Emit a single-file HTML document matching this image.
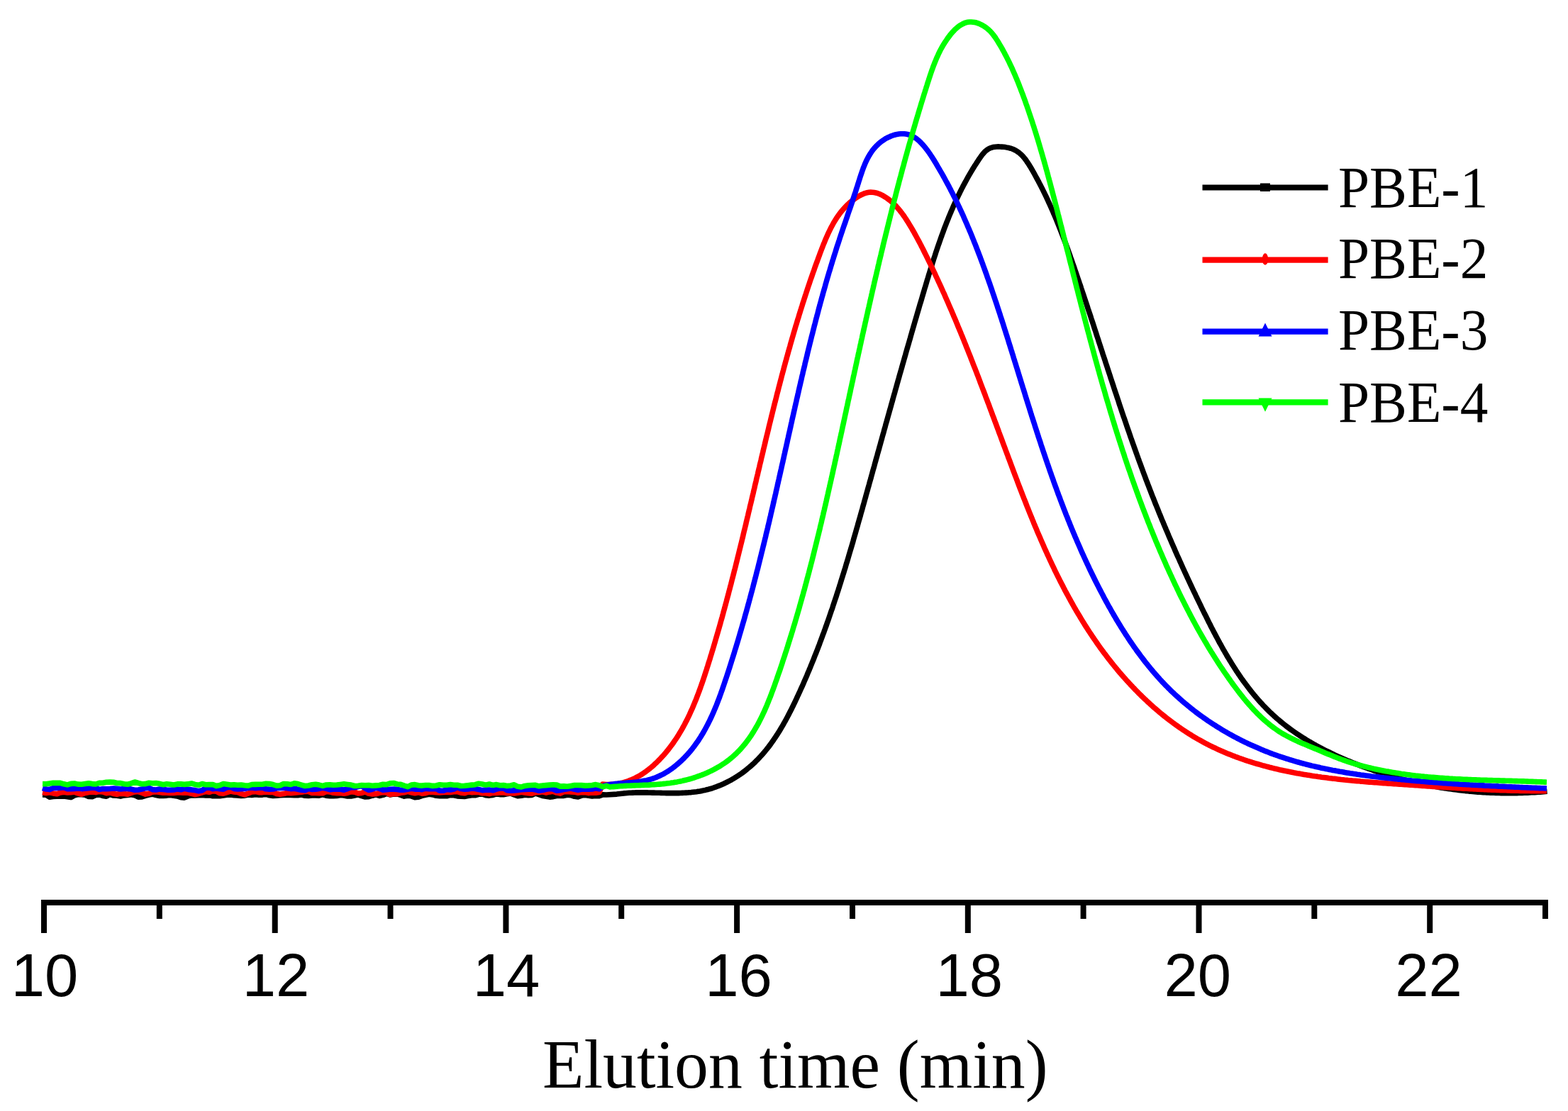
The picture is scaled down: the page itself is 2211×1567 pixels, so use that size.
<!DOCTYPE html>
<html><head><meta charset="utf-8"><style>
html,body{margin:0;padding:0;background:#fff;overflow:hidden}
svg{display:block}
.tl{font-family:"Liberation Sans",Arial,sans-serif;font-size:85px;text-anchor:middle;fill:#000}
.tt{font-family:"Liberation Serif","Times New Roman",serif;font-size:98px;fill:#000}
.lg{font-family:"Liberation Serif","Times New Roman",serif;font-size:83px;fill:#000}
</style></head><body>
<svg xmlns="http://www.w3.org/2000/svg" width="2211" height="1567" viewBox="0 0 2211 1567">
<rect width="2211" height="1567" fill="#fff"/>
<rect x="58" y="1269" width="2125" height="8" fill="#000"/>
<rect x="58.0" y="1269" width="8" height="47" fill="#000"/>
<text x="63" y="1405" class="tl">10</text>
<rect x="220.8" y="1269" width="8" height="27" fill="#000"/>
<rect x="383.7" y="1269" width="8" height="47" fill="#000"/>
<text x="389" y="1405" class="tl">12</text>
<rect x="546.5" y="1269" width="8" height="27" fill="#000"/>
<rect x="709.4" y="1269" width="8" height="47" fill="#000"/>
<text x="714" y="1405" class="tl">14</text>
<rect x="872.2" y="1269" width="8" height="27" fill="#000"/>
<rect x="1035.1" y="1269" width="8" height="47" fill="#000"/>
<text x="1041.5" y="1405" class="tl">16</text>
<rect x="1198.0" y="1269" width="8" height="27" fill="#000"/>
<rect x="1360.8" y="1269" width="8" height="47" fill="#000"/>
<text x="1366.8" y="1405" class="tl">18</text>
<rect x="1523.6" y="1269" width="8" height="27" fill="#000"/>
<rect x="1686.5" y="1269" width="8" height="47" fill="#000"/>
<text x="1688.7" y="1405" class="tl">20</text>
<rect x="1849.3" y="1269" width="8" height="27" fill="#000"/>
<rect x="2012.2" y="1269" width="8" height="47" fill="#000"/>
<text x="2014.5" y="1405" class="tl">22</text>
<rect x="2175.0" y="1269" width="8" height="27" fill="#000"/>
<text transform="translate(765,1534) scale(0.977,1)" class="tt">Elution time (min)</text>
<line x1="1695.5" x2="1872.6" y1="264.5" y2="264.5" stroke="#000" stroke-width="8.2"/>
<text transform="translate(1887,291.5) scale(0.955,1)" class="lg">PBE-1</text>
<line x1="1695.5" x2="1872.6" y1="366.6" y2="366.6" stroke="#f00" stroke-width="8.2"/>
<text transform="translate(1887,392.3) scale(0.955,1)" class="lg">PBE-2</text>
<line x1="1695.5" x2="1872.6" y1="467.7" y2="467.7" stroke="#00f" stroke-width="8.2"/>
<text transform="translate(1887,493.1) scale(0.955,1)" class="lg">PBE-3</text>
<line x1="1695.5" x2="1872.6" y1="567.4" y2="567.4" stroke="#0f0" stroke-width="8.2"/>
<text transform="translate(1887,594.7) scale(0.955,1)" class="lg">PBE-4</text>
<rect x="1777" y="258.5" width="14" height="11.5" fill="#000"/>
<ellipse cx="1784" cy="365.5" rx="4.2" ry="8.3" fill="#f00"/>
<polygon points="1784,455.5 1774.5,474.5 1793.5,474.5" fill="#00f"/>
<polygon points="1774.5,561.5 1793.5,561.5 1784,580.7" fill="#0f0"/>
<polyline points="60.0,1121.0 65.0,1121.2 70.0,1124.2 75.0,1123.4 80.0,1123.1 85.0,1123.1 90.0,1123.1 95.0,1123.7 100.0,1124.6 105.0,1121.9 110.0,1120.5 115.0,1120.8 120.0,1121.3 125.0,1123.5 130.0,1123.7 135.0,1121.6 140.0,1120.9 145.0,1122.5 150.0,1123.2 155.0,1120.5 160.0,1122.0 165.0,1122.2 170.0,1123.1 175.0,1121.9 180.0,1121.5 185.0,1120.7 190.0,1121.7 195.0,1124.2 200.0,1124.0 205.0,1122.3 210.0,1121.0 215.0,1120.2 220.0,1121.6 225.0,1122.5 230.0,1122.5 235.0,1122.1 240.0,1121.4 245.0,1122.2 250.0,1123.0 255.0,1124.7 260.0,1125.1 265.0,1122.9 270.0,1121.7 275.0,1122.0 280.0,1121.6 285.0,1121.5 290.0,1121.9 295.0,1121.6 300.0,1122.8 305.0,1122.7 310.0,1122.7 315.0,1122.1 320.0,1121.3 325.0,1121.1 330.0,1121.7 335.0,1121.9 340.0,1122.5 345.0,1122.1 350.0,1121.0 355.0,1121.5 360.0,1120.8 365.0,1121.2 370.0,1121.1 375.0,1120.1 380.0,1121.8 385.0,1122.5 390.0,1122.1 395.0,1121.7 400.0,1121.5 405.0,1121.1 410.0,1121.5 415.0,1121.7 420.0,1121.8 425.0,1121.1 430.0,1122.2 435.0,1122.5 440.0,1122.0 445.0,1121.9 450.0,1122.1 455.0,1120.8 460.0,1122.2 465.0,1122.8 470.0,1122.8 475.0,1122.5 480.0,1121.5 485.0,1121.9 490.0,1122.9 495.0,1122.9 500.0,1122.0 505.0,1120.8 510.0,1122.6 515.0,1124.0 520.0,1123.7 525.0,1122.2 530.0,1120.9 535.0,1122.5 540.0,1121.4 545.0,1119.4 550.0,1121.0 555.0,1120.1 560.0,1119.9 565.0,1121.4 570.0,1123.1 575.0,1122.2 580.0,1122.8 585.0,1124.6 590.0,1124.3 595.0,1122.4 600.0,1121.2 605.0,1120.3 610.0,1120.9 615.0,1122.3 620.0,1122.6 625.0,1122.6 630.0,1122.8 635.0,1121.4 640.0,1121.8 645.0,1122.9 650.0,1123.2 655.0,1123.4 660.0,1122.6 665.0,1121.8 670.0,1121.8 675.0,1120.3 680.0,1119.9 685.0,1121.8 690.0,1122.1 695.0,1121.5 700.0,1119.9 705.0,1120.6 710.0,1120.7 715.0,1119.8 720.0,1118.9 725.0,1120.9 730.0,1122.7 735.0,1122.2 740.0,1121.2 745.0,1121.7 750.0,1121.5 755.0,1118.9 760.0,1120.7 765.0,1122.5 770.0,1123.2 775.0,1124.1 780.0,1123.6 785.0,1122.5 790.0,1122.3 795.0,1122.4 800.0,1121.3 805.0,1121.7 810.0,1123.3 815.0,1124.0 820.0,1122.1 825.0,1121.5 830.0,1122.2 835.0,1123.0 840.0,1122.5 845.0,1122.7 850.0,1120.9 855.0,1121.0 869.7,1120.1 872.1,1119.8 874.6,1119.5 877.1,1119.2 879.6,1118.9 882.1,1118.7 884.6,1118.5 887.1,1118.3 889.6,1118.2 892.1,1118.1 894.6,1118.0 897.1,1117.9 899.6,1117.9 902.1,1117.9 904.6,1117.9 907.1,1117.9 909.6,1117.9 912.1,1117.9 914.6,1118.0 917.1,1118.0 919.6,1118.1 922.1,1118.1 924.6,1118.2 927.1,1118.3 929.6,1118.3 932.1,1118.4 934.6,1118.5 937.1,1118.5 939.6,1118.6 942.1,1118.6 944.6,1118.6 947.1,1118.6 949.6,1118.6 952.1,1118.6 954.6,1118.6 957.1,1118.6 959.6,1118.5 962.1,1118.4 964.6,1118.3 967.1,1118.1 969.6,1118.0 972.1,1117.8 974.6,1117.6 977.1,1117.3 979.6,1117.0 982.1,1116.7 984.6,1116.3 987.0,1115.9 989.5,1115.4 991.9,1114.9 994.4,1114.4 996.8,1113.8 999.2,1113.2 1001.7,1112.5 1004.0,1111.8 1006.4,1111.0 1008.8,1110.2 1011.1,1109.3 1013.5,1108.4 1015.8,1107.5 1018.1,1106.5 1020.4,1105.5 1022.6,1104.4 1024.9,1103.3 1027.1,1102.2 1029.3,1101.0 1031.5,1099.8 1033.7,1098.5 1035.8,1097.3 1038.0,1095.9 1040.1,1094.6 1042.2,1093.2 1044.2,1091.8 1046.3,1090.4 1048.3,1088.9 1050.3,1087.4 1052.3,1085.8 1054.2,1084.2 1056.1,1082.6 1058.0,1081.0 1059.9,1079.4 1061.8,1077.7 1063.6,1076.0 1065.4,1074.2 1067.1,1072.4 1068.9,1070.7 1070.6,1068.8 1072.3,1067.0 1074.0,1065.2 1075.7,1063.3 1077.3,1061.4 1078.9,1059.5 1080.5,1057.5 1082.0,1055.6 1083.6,1053.6 1085.1,1051.6 1086.6,1049.6 1088.0,1047.6 1089.5,1045.5 1090.9,1043.5 1092.3,1041.4 1093.7,1039.3 1095.1,1037.2 1096.5,1035.1 1097.8,1033.0 1099.1,1030.9 1100.4,1028.7 1101.7,1026.6 1103.0,1024.4 1104.2,1022.3 1105.4,1020.1 1106.7,1017.9 1107.9,1015.7 1109.1,1013.5 1110.3,1011.3 1111.4,1009.1 1112.6,1006.9 1113.7,1004.6 1114.9,1002.4 1116.0,1000.2 1117.1,997.9 1118.2,995.7 1119.3,993.4 1120.4,991.2 1121.5,988.9 1122.5,986.7 1123.6,984.4 1124.6,982.1 1125.7,979.9 1126.7,977.6 1127.8,975.3 1128.8,973.0 1129.8,970.7 1130.9,968.5 1131.9,966.2 1132.9,963.9 1133.9,961.6 1134.9,959.3 1135.9,957.0 1136.9,954.7 1137.9,952.4 1138.8,950.1 1139.8,947.8 1140.8,945.5 1141.7,943.2 1142.7,940.9 1143.6,938.5 1144.6,936.2 1145.5,933.9 1146.5,931.6 1147.4,929.3 1148.3,926.9 1149.2,924.6 1150.2,922.3 1151.1,919.9 1152.0,917.6 1152.9,915.3 1153.8,912.9 1154.7,910.6 1155.6,908.3 1156.4,905.9 1157.3,903.6 1158.2,901.2 1159.1,898.9 1159.9,896.5 1160.8,894.2 1161.7,891.8 1162.5,889.5 1163.4,887.1 1164.2,884.8 1165.1,882.4 1165.9,880.1 1166.7,877.7 1167.6,875.3 1168.4,873.0 1169.2,870.6 1170.0,868.3 1170.8,865.9 1171.6,863.5 1172.4,861.1 1173.3,858.8 1174.1,856.4 1174.8,854.0 1175.6,851.7 1176.4,849.3 1177.2,846.9 1178.0,844.5 1178.8,842.2 1179.6,839.8 1180.3,837.4 1181.1,835.0 1181.9,832.6 1182.6,830.2 1183.4,827.9 1184.1,825.5 1184.9,823.1 1185.6,820.7 1186.4,818.3 1187.1,815.9 1187.9,813.5 1188.6,811.1 1189.4,808.8 1190.1,806.4 1190.8,804.0 1191.6,801.6 1192.3,799.2 1193.0,796.8 1193.7,794.4 1194.5,792.0 1195.2,789.6 1195.9,787.2 1196.6,784.8 1197.3,782.4 1198.0,780.0 1198.7,777.6 1199.4,775.2 1200.2,772.8 1200.9,770.4 1201.6,768.0 1202.3,765.6 1203.0,763.2 1203.6,760.8 1204.3,758.4 1205.0,756.0 1205.7,753.6 1206.4,751.2 1207.1,748.8 1207.8,746.3 1208.5,743.9 1209.2,741.5 1209.8,739.1 1210.5,736.7 1211.2,734.3 1211.9,731.9 1212.6,729.5 1213.3,727.1 1213.9,724.7 1214.6,722.3 1215.3,719.9 1216.0,717.4 1216.6,715.0 1217.3,712.6 1218.0,710.2 1218.7,707.8 1219.3,705.4 1220.0,703.0 1220.7,700.6 1221.3,698.2 1222.0,695.8 1222.7,693.3 1223.4,690.9 1224.0,688.5 1224.7,686.1 1225.4,683.7 1226.0,681.3 1226.7,678.9 1227.4,676.5 1228.1,674.1 1228.7,671.6 1229.4,669.2 1230.1,666.8 1230.7,664.4 1231.4,662.0 1232.1,659.6 1232.8,657.2 1233.4,654.8 1234.1,652.3 1234.8,649.9 1235.4,647.5 1236.1,645.1 1236.8,642.7 1237.4,640.3 1238.1,637.9 1238.8,635.5 1239.5,633.1 1240.1,630.6 1240.8,628.2 1241.5,625.8 1242.1,623.4 1242.8,621.0 1243.5,618.6 1244.1,616.2 1244.8,613.8 1245.5,611.4 1246.2,608.9 1246.8,606.5 1247.5,604.1 1248.2,601.7 1248.8,599.3 1249.5,596.9 1250.2,594.5 1250.9,592.1 1251.5,589.7 1252.2,587.2 1252.9,584.8 1253.6,582.4 1254.2,580.0 1254.9,577.6 1255.6,575.2 1256.3,572.8 1256.9,570.4 1257.6,568.0 1258.3,565.6 1259.0,563.1 1259.6,560.7 1260.3,558.3 1261.0,555.9 1261.7,553.5 1262.3,551.1 1263.0,548.7 1263.7,546.3 1264.4,543.9 1265.0,541.5 1265.7,539.1 1266.4,536.6 1267.1,534.2 1267.8,531.8 1268.4,529.4 1269.1,527.0 1269.8,524.6 1270.5,522.2 1271.2,519.8 1271.9,517.4 1272.5,515.0 1273.2,512.6 1273.9,510.2 1274.6,507.8 1275.3,505.3 1276.0,502.9 1276.7,500.5 1277.3,498.1 1278.0,495.7 1278.7,493.3 1279.4,490.9 1280.1,488.5 1280.8,486.1 1281.5,483.7 1282.2,481.3 1282.9,478.9 1283.6,476.5 1284.2,474.1 1284.9,471.7 1285.6,469.3 1286.3,466.9 1287.0,464.4 1287.7,462.0 1288.4,459.6 1289.1,457.2 1289.8,454.8 1290.5,452.4 1291.2,450.0 1291.9,447.6 1292.6,445.2 1293.3,442.8 1294.0,440.4 1294.7,438.0 1295.4,435.6 1296.1,433.2 1296.8,430.8 1297.5,428.4 1298.3,426.0 1299.0,423.6 1299.7,421.2 1300.4,418.8 1301.1,416.4 1301.8,414.0 1302.5,411.6 1303.2,409.2 1303.9,406.8 1304.7,404.4 1305.4,402.0 1306.1,399.6 1306.8,397.2 1307.5,394.8 1308.3,392.4 1309.0,390.0 1309.7,387.6 1310.5,385.3 1311.2,382.9 1311.9,380.5 1312.7,378.1 1313.4,375.7 1314.2,373.3 1314.9,370.9 1315.7,368.5 1316.4,366.1 1317.2,363.8 1318.0,361.4 1318.8,359.0 1319.5,356.6 1320.3,354.3 1321.1,351.9 1321.9,349.5 1322.7,347.1 1323.5,344.8 1324.4,342.4 1325.2,340.0 1326.0,337.7 1326.8,335.3 1327.7,333.0 1328.5,330.6 1329.4,328.3 1330.3,325.9 1331.1,323.6 1332.0,321.2 1332.9,318.9 1333.8,316.6 1334.7,314.2 1335.6,311.9 1336.6,309.6 1337.5,307.2 1338.4,304.9 1339.4,302.6 1340.4,300.3 1341.3,298.0 1342.3,295.7 1343.3,293.4 1344.3,291.1 1345.3,288.8 1346.4,286.5 1347.4,284.3 1348.4,282.0 1349.5,279.7 1350.6,277.5 1351.7,275.2 1352.8,273.0 1353.9,270.7 1355.0,268.5 1356.1,266.2 1357.3,264.0 1358.4,261.8 1359.6,259.6 1360.8,257.4 1362.0,255.2 1363.2,253.0 1364.4,250.8 1365.6,248.6 1366.9,246.4 1368.1,244.3 1369.4,242.1 1370.7,240.0 1372.0,237.8 1373.3,235.7 1374.6,233.6 1376.0,231.5 1377.3,229.4 1378.7,227.3 1380.1,225.2 1381.5,223.1 1382.9,221.1 1384.4,219.0 1385.9,217.1 1387.6,215.2 1389.3,213.4 1391.2,211.8 1393.3,210.3 1395.5,209.2 1397.8,208.3 1400.2,207.6 1402.7,207.2 1405.2,207.0 1407.7,206.9 1410.2,207.0 1412.7,207.1 1415.2,207.3 1417.7,207.6 1420.1,208.1 1422.6,208.6 1425.0,209.2 1427.4,210.0 1429.7,211.0 1431.9,212.1 1434.1,213.4 1436.1,214.8 1438.1,216.4 1439.9,218.1 1441.7,219.8 1443.4,221.7 1445.0,223.6 1446.5,225.6 1447.9,227.7 1449.3,229.7 1450.7,231.8 1452.0,234.0 1453.3,236.1 1454.6,238.3 1455.8,240.4 1457.1,242.6 1458.3,244.8 1459.5,247.0 1460.7,249.2 1461.9,251.4 1463.1,253.6 1464.3,255.8 1465.4,258.0 1466.6,260.2 1467.7,262.4 1468.9,264.7 1470.0,266.9 1471.1,269.1 1472.2,271.4 1473.3,273.6 1474.4,275.9 1475.5,278.2 1476.5,280.4 1477.6,282.7 1478.6,285.0 1479.7,287.2 1480.7,289.5 1481.7,291.8 1482.7,294.1 1483.8,296.4 1484.8,298.7 1485.7,301.0 1486.7,303.3 1487.7,305.6 1488.7,307.9 1489.6,310.2 1490.6,312.5 1491.5,314.8 1492.5,317.2 1493.4,319.5 1494.3,321.8 1495.2,324.1 1496.1,326.5 1497.0,328.8 1497.9,331.1 1498.8,333.5 1499.7,335.8 1500.6,338.2 1501.5,340.5 1502.4,342.8 1503.2,345.2 1504.1,347.5 1505.0,349.9 1505.8,352.2 1506.7,354.6 1507.5,357.0 1508.4,359.3 1509.2,361.7 1510.0,364.0 1510.9,366.4 1511.7,368.7 1512.5,371.1 1513.3,373.5 1514.2,375.8 1515.0,378.2 1515.8,380.6 1516.6,382.9 1517.4,385.3 1518.2,387.7 1519.0,390.0 1519.8,392.4 1520.6,394.8 1521.4,397.1 1522.2,399.5 1523.1,401.9 1523.9,404.3 1524.6,406.6 1525.4,409.0 1526.2,411.4 1527.0,413.8 1527.8,416.1 1528.6,418.5 1529.4,420.9 1530.2,423.2 1531.0,425.6 1531.8,428.0 1532.6,430.4 1533.4,432.8 1534.1,435.1 1534.9,437.5 1535.7,439.9 1536.5,442.3 1537.3,444.6 1538.1,447.0 1538.8,449.4 1539.6,451.8 1540.4,454.1 1541.2,456.5 1542.0,458.9 1542.7,461.3 1543.5,463.7 1544.3,466.0 1545.1,468.4 1545.8,470.8 1546.6,473.2 1547.4,475.6 1548.2,477.9 1548.9,480.3 1549.7,482.7 1550.5,485.1 1551.3,487.5 1552.0,489.8 1552.8,492.2 1553.6,494.6 1554.4,497.0 1555.1,499.4 1555.9,501.7 1556.7,504.1 1557.5,506.5 1558.3,508.9 1559.0,511.2 1559.8,513.6 1560.6,516.0 1561.4,518.4 1562.1,520.8 1562.9,523.1 1563.7,525.5 1564.5,527.9 1565.3,530.3 1566.0,532.7 1566.8,535.0 1567.6,537.4 1568.4,539.8 1569.2,542.2 1570.0,544.5 1570.7,546.9 1571.5,549.3 1572.3,551.7 1573.1,554.0 1573.9,556.4 1574.7,558.8 1575.5,561.2 1576.3,563.5 1577.1,565.9 1577.8,568.3 1578.6,570.7 1579.4,573.0 1580.2,575.4 1581.0,577.8 1581.8,580.2 1582.6,582.5 1583.4,584.9 1584.2,587.3 1585.1,589.6 1585.9,592.0 1586.7,594.4 1587.5,596.7 1588.3,599.1 1589.1,601.5 1589.9,603.8 1590.7,606.2 1591.6,608.6 1592.4,610.9 1593.2,613.3 1594.0,615.7 1594.8,618.0 1595.7,620.4 1596.5,622.7 1597.3,625.1 1598.2,627.5 1599.0,629.8 1599.8,632.2 1600.7,634.5 1601.5,636.9 1602.4,639.3 1603.2,641.6 1604.1,644.0 1604.9,646.3 1605.8,648.7 1606.6,651.0 1607.5,653.4 1608.4,655.7 1609.2,658.1 1610.1,660.4 1611.0,662.8 1611.8,665.1 1612.7,667.5 1613.6,669.8 1614.5,672.1 1615.3,674.5 1616.2,676.8 1617.1,679.2 1618.0,681.5 1618.9,683.8 1619.8,686.2 1620.7,688.5 1621.6,690.8 1622.5,693.2 1623.4,695.5 1624.3,697.8 1625.2,700.2 1626.2,702.5 1627.1,704.8 1628.0,707.2 1628.9,709.5 1629.8,711.8 1630.8,714.1 1631.7,716.4 1632.7,718.8 1633.6,721.1 1634.5,723.4 1635.5,725.7 1636.4,728.0 1637.4,730.4 1638.3,732.7 1639.3,735.0 1640.3,737.3 1641.2,739.6 1642.2,741.9 1643.2,744.2 1644.1,746.5 1645.1,748.8 1646.1,751.1 1647.1,753.4 1648.0,755.7 1649.0,758.0 1650.0,760.3 1651.0,762.6 1652.0,764.9 1653.0,767.2 1654.0,769.5 1655.0,771.8 1656.0,774.1 1657.0,776.4 1658.0,778.7 1659.0,781.0 1660.0,783.3 1661.1,785.6 1662.1,787.8 1663.1,790.1 1664.1,792.4 1665.2,794.7 1666.2,797.0 1667.2,799.3 1668.2,801.5 1669.3,803.8 1670.3,806.1 1671.4,808.4 1672.4,810.6 1673.5,812.9 1674.5,815.2 1675.6,817.4 1676.6,819.7 1677.7,822.0 1678.7,824.3 1679.8,826.5 1680.9,828.8 1681.9,831.0 1683.0,833.3 1684.1,835.6 1685.2,837.8 1686.2,840.1 1687.3,842.3 1688.4,844.6 1689.5,846.9 1690.6,849.1 1691.7,851.4 1692.8,853.6 1693.8,855.9 1694.9,858.1 1696.0,860.4 1697.1,862.6 1698.2,864.9 1699.4,867.1 1700.5,869.3 1701.6,871.6 1702.7,873.8 1703.8,876.1 1704.9,878.3 1706.1,880.5 1707.2,882.8 1708.3,885.0 1709.5,887.2 1710.6,889.4 1711.8,891.7 1713.0,893.9 1714.1,896.1 1715.3,898.3 1716.5,900.5 1717.7,902.7 1718.8,904.9 1720.0,907.1 1721.3,909.3 1722.5,911.5 1723.7,913.7 1724.9,915.9 1726.2,918.0 1727.4,920.2 1728.7,922.4 1729.9,924.5 1731.2,926.7 1732.5,928.8 1733.8,931.0 1735.1,933.1 1736.4,935.2 1737.7,937.4 1739.1,939.5 1740.4,941.6 1741.8,943.7 1743.1,945.8 1744.5,947.9 1745.9,950.0 1747.3,952.0 1748.7,954.1 1750.1,956.2 1751.6,958.2 1753.0,960.2 1754.5,962.3 1756.0,964.3 1757.5,966.3 1759.0,968.3 1760.5,970.3 1762.0,972.3 1763.6,974.2 1765.1,976.2 1766.7,978.1 1768.3,980.1 1769.9,982.0 1771.5,983.9 1773.1,985.8 1774.8,987.7 1776.5,989.6 1778.1,991.4 1779.8,993.2 1781.5,995.1 1783.3,996.9 1785.0,998.7 1786.8,1000.5 1788.5,1002.2 1790.3,1004.0 1792.1,1005.7 1794.0,1007.4 1795.8,1009.1 1797.7,1010.8 1799.5,1012.5 1801.4,1014.1 1803.3,1015.7 1805.2,1017.4 1807.2,1018.9 1809.1,1020.5 1811.1,1022.1 1813.0,1023.6 1815.0,1025.1 1817.0,1026.6 1819.0,1028.1 1821.1,1029.6 1823.1,1031.0 1825.2,1032.5 1827.2,1033.9 1829.3,1035.3 1831.4,1036.7 1833.5,1038.1 1835.6,1039.4 1837.7,1040.8 1839.8,1042.1 1841.9,1043.4 1844.1,1044.7 1846.2,1046.0 1848.4,1047.2 1850.6,1048.5 1852.7,1049.7 1854.9,1050.9 1857.1,1052.2 1859.3,1053.3 1861.5,1054.5 1863.7,1055.7 1865.9,1056.8 1868.2,1058.0 1870.4,1059.1 1872.6,1060.2 1874.9,1061.3 1877.1,1062.4 1879.4,1063.5 1881.7,1064.6 1883.9,1065.6 1886.2,1066.7 1888.5,1067.7 1890.8,1068.7 1893.1,1069.7 1895.4,1070.7 1897.7,1071.7 1900.0,1072.7 1902.3,1073.6 1904.6,1074.6 1906.9,1075.5 1909.3,1076.5 1911.6,1077.4 1913.9,1078.3 1916.2,1079.2 1918.6,1080.1 1920.9,1081.0 1923.3,1081.8 1925.6,1082.7 1928.0,1083.5 1930.3,1084.4 1932.7,1085.2 1935.1,1086.0 1937.4,1086.9 1939.8,1087.7 1942.2,1088.5 1944.5,1089.2 1946.9,1090.0 1949.3,1090.8 1951.7,1091.5 1954.1,1092.3 1956.5,1093.0 1958.9,1093.8 1961.3,1094.5 1963.7,1095.2 1966.1,1095.9 1968.5,1096.6 1970.9,1097.3 1973.3,1097.9 1975.7,1098.6 1978.1,1099.2 1980.5,1099.9 1983.0,1100.5 1985.4,1101.1 1987.8,1101.7 1990.2,1102.3 1992.7,1102.9 1995.1,1103.5 1997.5,1104.1 2000.0,1104.6 2002.4,1105.2 2004.9,1105.7 2007.3,1106.2 2009.8,1106.7 2012.2,1107.2 2014.7,1107.7 2017.1,1108.2 2019.6,1108.7 2022.1,1109.1 2024.5,1109.6 2027.0,1110.0 2029.4,1110.5 2031.9,1110.9 2034.4,1111.3 2036.9,1111.7 2039.3,1112.1 2041.8,1112.4 2044.3,1112.8 2046.8,1113.1 2049.2,1113.5 2051.7,1113.8 2054.2,1114.1 2056.7,1114.4 2059.2,1114.7 2061.7,1115.0 2064.1,1115.3 2066.6,1115.6 2069.1,1115.8 2071.6,1116.1 2074.1,1116.3 2076.6,1116.5 2079.1,1116.7 2081.6,1116.9 2084.1,1117.1 2086.6,1117.3 2089.1,1117.4 2091.6,1117.6 2094.1,1117.8 2096.6,1117.9 2099.1,1118.0 2101.6,1118.1 2104.1,1118.2 2106.6,1118.3 2109.1,1118.4 2111.6,1118.5 2114.1,1118.5 2116.6,1118.6 2119.1,1118.6 2121.6,1118.6 2124.1,1118.7 2126.6,1118.7 2129.1,1118.7 2131.6,1118.7 2134.1,1118.6 2136.6,1118.6 2139.1,1118.6 2141.6,1118.5 2144.1,1118.4 2146.6,1118.4 2149.1,1118.3 2151.6,1118.2 2154.1,1118.1 2156.6,1118.0 2159.1,1117.8 2161.6,1117.7 2164.1,1117.6 2166.6,1117.4 2169.1,1117.2 2171.6,1117.1 2174.1,1116.9 2176.6,1116.7 2179.1,1116.5 2181.6,1116.3" fill="none" stroke="#000" stroke-width="7.6" stroke-linejoin="round" stroke-linecap="butt"/>
<polyline points="60.0,1117.4 65.0,1118.4 70.0,1117.7 75.0,1118.9 80.0,1119.8 85.0,1118.0 90.0,1117.3 95.0,1118.0 100.0,1117.7 105.0,1117.1 110.0,1118.9 115.0,1120.3 120.0,1118.4 125.0,1117.4 130.0,1117.0 135.0,1117.6 140.0,1116.4 145.0,1116.9 150.0,1118.7 155.0,1117.9 160.0,1119.5 165.0,1120.2 170.0,1119.1 175.0,1119.5 180.0,1120.3 185.0,1118.4 190.0,1116.9 195.0,1116.4 200.0,1118.2 205.0,1120.1 210.0,1119.3 215.0,1117.1 220.0,1116.7 225.0,1117.4 230.0,1118.2 235.0,1118.1 240.0,1118.4 245.0,1118.4 250.0,1117.9 255.0,1118.0 260.0,1118.3 265.0,1118.3 270.0,1119.3 275.0,1120.6 280.0,1119.5 285.0,1117.8 290.0,1116.5 295.0,1117.3 300.0,1115.7 305.0,1116.2 310.0,1118.8 315.0,1119.2 320.0,1117.6 325.0,1116.1 330.0,1116.9 335.0,1117.5 340.0,1119.4 345.0,1120.9 350.0,1119.0 355.0,1117.0 360.0,1116.6 365.0,1117.6 370.0,1117.6 375.0,1116.9 380.0,1117.5 385.0,1117.4 390.0,1119.4 395.0,1120.2 400.0,1119.6 405.0,1118.3 410.0,1118.6 415.0,1118.1 420.0,1117.6 425.0,1117.3 430.0,1116.2 435.0,1116.5 440.0,1118.5 445.0,1118.4 450.0,1118.8 455.0,1118.8 460.0,1116.5 465.0,1116.9 470.0,1118.3 475.0,1118.6 480.0,1118.4 485.0,1119.3 490.0,1118.4 495.0,1116.7 500.0,1117.1 505.0,1119.0 510.0,1118.4 515.0,1116.9 520.0,1119.3 525.0,1119.9 530.0,1119.8 535.0,1118.3 540.0,1117.4 545.0,1117.9 550.0,1120.6 555.0,1119.6 560.0,1119.7 565.0,1118.3 570.0,1117.7 575.0,1116.4 580.0,1117.7 585.0,1118.8 590.0,1117.7 595.0,1119.2 600.0,1118.7 605.0,1117.2 610.0,1117.3 615.0,1117.7 620.0,1117.9 625.0,1117.5 630.0,1117.2 635.0,1117.4 640.0,1116.7 645.0,1116.6 650.0,1118.2 655.0,1118.8 660.0,1117.0 665.0,1117.6 670.0,1117.3 675.0,1117.4 680.0,1118.8 685.0,1118.7 690.0,1119.6 695.0,1118.2 700.0,1118.5 705.0,1118.0 710.0,1117.7 715.0,1118.7 720.0,1118.7 725.0,1119.0 730.0,1118.2 735.0,1117.2 740.0,1118.0 745.0,1118.8 750.0,1119.2 755.0,1117.8 760.0,1117.5 765.0,1116.8 770.0,1118.1 775.0,1116.9 780.0,1116.1 785.0,1118.1 790.0,1119.1 795.0,1116.8 800.0,1116.5 805.0,1116.9 810.0,1117.1 815.0,1118.2 820.0,1117.5 825.0,1117.6 830.0,1118.6 835.0,1118.0 840.0,1118.3 845.0,1117.6 849.6,1106.1 852.1,1106.3 854.6,1106.5 857.1,1106.5 859.6,1106.5 862.1,1106.4 864.6,1106.3 867.1,1106.0 869.5,1105.7 872.0,1105.3 874.5,1104.8 876.9,1104.3 879.3,1103.6 881.7,1102.9 884.1,1102.2 886.5,1101.3 888.8,1100.4 891.1,1099.5 893.4,1098.4 895.7,1097.4 897.9,1096.2 900.1,1095.0 902.3,1093.8 904.4,1092.5 906.5,1091.1 908.6,1089.7 910.6,1088.3 912.6,1086.8 914.6,1085.3 916.6,1083.7 918.5,1082.1 920.4,1080.5 922.3,1078.8 924.1,1077.1 925.9,1075.4 927.7,1073.6 929.5,1071.8 931.2,1070.0 932.9,1068.2 934.6,1066.3 936.3,1064.5 937.9,1062.6 939.5,1060.7 941.1,1058.7 942.7,1056.8 944.2,1054.8 945.7,1052.8 947.2,1050.8 948.7,1048.7 950.1,1046.7 951.5,1044.6 952.9,1042.6 954.3,1040.5 955.6,1038.4 957.0,1036.2 958.3,1034.1 959.6,1031.9 960.8,1029.8 962.1,1027.6 963.3,1025.4 964.5,1023.2 965.7,1021.0 966.8,1018.8 968.0,1016.6 969.1,1014.3 970.2,1012.1 971.3,1009.8 972.4,1007.6 973.4,1005.3 974.4,1003.0 975.5,1000.7 976.5,998.4 977.5,996.1 978.4,993.8 979.4,991.5 980.3,989.2 981.3,986.9 982.2,984.6 983.1,982.2 984.0,979.9 984.9,977.5 985.8,975.2 986.6,972.8 987.5,970.5 988.3,968.1 989.1,965.8 990.0,963.4 990.8,961.0 991.6,958.7 992.4,956.3 993.2,953.9 994.0,951.5 994.7,949.2 995.5,946.8 996.3,944.4 997.0,942.0 997.8,939.6 998.5,937.2 999.3,934.8 1000.0,932.5 1000.8,930.1 1001.5,927.7 1002.2,925.3 1003.0,922.9 1003.7,920.5 1004.4,918.1 1005.2,915.7 1005.9,913.3 1006.6,910.9 1007.3,908.5 1008.0,906.1 1008.7,903.7 1009.4,901.3 1010.1,898.9 1010.8,896.5 1011.5,894.1 1012.2,891.7 1012.9,889.3 1013.6,886.9 1014.3,884.5 1015.0,882.0 1015.7,879.6 1016.3,877.2 1017.0,874.8 1017.7,872.4 1018.4,870.0 1019.0,867.6 1019.7,865.2 1020.3,862.7 1021.0,860.3 1021.7,857.9 1022.3,855.5 1023.0,853.1 1023.6,850.7 1024.3,848.2 1024.9,845.8 1025.6,843.4 1026.2,841.0 1026.9,838.6 1027.5,836.2 1028.1,833.7 1028.8,831.3 1029.4,828.9 1030.0,826.5 1030.7,824.0 1031.3,821.6 1031.9,819.2 1032.5,816.8 1033.2,814.3 1033.8,811.9 1034.4,809.5 1035.0,807.1 1035.6,804.6 1036.3,802.2 1036.9,799.8 1037.5,797.4 1038.1,794.9 1038.7,792.5 1039.3,790.1 1039.9,787.6 1040.5,785.2 1041.1,782.8 1041.7,780.3 1042.3,777.9 1042.9,775.5 1043.5,773.1 1044.1,770.6 1044.7,768.2 1045.3,765.8 1045.9,763.3 1046.5,760.9 1047.1,758.5 1047.7,756.0 1048.2,753.6 1048.8,751.2 1049.4,748.7 1050.0,746.3 1050.6,743.9 1051.2,741.4 1051.8,739.0 1052.3,736.5 1052.9,734.1 1053.5,731.7 1054.1,729.2 1054.7,726.8 1055.2,724.4 1055.8,721.9 1056.4,719.5 1057.0,717.1 1057.5,714.6 1058.1,712.2 1058.7,709.8 1059.3,707.3 1059.9,704.9 1060.4,702.4 1061.0,700.0 1061.6,697.6 1062.2,695.1 1062.7,692.7 1063.3,690.3 1063.9,687.8 1064.4,685.4 1065.0,682.9 1065.6,680.5 1066.2,678.1 1066.7,675.6 1067.3,673.2 1067.9,670.8 1068.5,668.3 1069.0,665.9 1069.6,663.5 1070.2,661.0 1070.8,658.6 1071.3,656.1 1071.9,653.7 1072.5,651.3 1073.1,648.8 1073.6,646.4 1074.2,644.0 1074.8,641.5 1075.4,639.1 1076.0,636.7 1076.5,634.2 1077.1,631.8 1077.7,629.3 1078.3,626.9 1078.9,624.5 1079.4,622.0 1080.0,619.6 1080.6,617.2 1081.2,614.7 1081.8,612.3 1082.4,609.9 1083.0,607.4 1083.6,605.0 1084.1,602.6 1084.7,600.1 1085.3,597.7 1085.9,595.3 1086.5,592.8 1087.1,590.4 1087.7,588.0 1088.3,585.5 1088.9,583.1 1089.5,580.7 1090.1,578.3 1090.7,575.8 1091.3,573.4 1091.9,571.0 1092.5,568.5 1093.2,566.1 1093.8,563.7 1094.4,561.3 1095.0,558.8 1095.6,556.4 1096.2,554.0 1096.9,551.5 1097.5,549.1 1098.1,546.7 1098.7,544.3 1099.4,541.9 1100.0,539.4 1100.6,537.0 1101.3,534.6 1101.9,532.2 1102.5,529.7 1103.2,527.3 1103.8,524.9 1104.5,522.5 1105.1,520.1 1105.8,517.6 1106.4,515.2 1107.1,512.8 1107.7,510.4 1108.4,508.0 1109.1,505.6 1109.7,503.2 1110.4,500.7 1111.1,498.3 1111.7,495.9 1112.4,493.5 1113.1,491.1 1113.8,488.7 1114.4,486.3 1115.1,483.9 1115.8,481.5 1116.5,479.1 1117.2,476.6 1117.9,474.2 1118.6,471.8 1119.3,469.4 1120.0,467.0 1120.7,464.6 1121.4,462.2 1122.1,459.8 1122.9,457.4 1123.6,455.0 1124.3,452.6 1125.0,450.2 1125.8,447.9 1126.5,445.5 1127.2,443.1 1128.0,440.7 1128.7,438.3 1129.5,435.9 1130.2,433.5 1131.0,431.1 1131.7,428.7 1132.5,426.3 1133.3,424.0 1134.0,421.6 1134.8,419.2 1135.6,416.8 1136.4,414.4 1137.1,412.1 1137.9,409.7 1138.7,407.3 1139.5,404.9 1140.3,402.6 1141.1,400.2 1141.9,397.8 1142.7,395.4 1143.5,393.1 1144.4,390.7 1145.2,388.3 1146.0,386.0 1146.8,383.6 1147.7,381.3 1148.5,378.9 1149.3,376.5 1150.2,374.2 1151.0,371.8 1151.9,369.5 1152.8,367.1 1153.6,364.8 1154.5,362.4 1155.4,360.1 1156.2,357.7 1157.1,355.4 1158.0,353.0 1158.9,350.7 1159.8,348.4 1160.7,346.0 1161.6,343.7 1162.6,341.4 1163.5,339.1 1164.5,336.8 1165.5,334.5 1166.5,332.2 1167.5,329.9 1168.6,327.6 1169.7,325.4 1170.8,323.1 1171.9,320.9 1173.1,318.7 1174.3,316.5 1175.5,314.3 1176.8,312.1 1178.1,310.0 1179.4,307.9 1180.8,305.8 1182.3,303.8 1183.7,301.7 1185.2,299.7 1186.8,297.8 1188.4,295.9 1190.1,294.0 1191.8,292.1 1193.5,290.3 1195.3,288.6 1197.1,286.9 1199.0,285.2 1200.9,283.6 1202.9,282.1 1204.9,280.6 1207.0,279.2 1209.1,277.8 1211.2,276.5 1213.4,275.3 1215.7,274.2 1218.0,273.2 1220.3,272.4 1222.7,271.8 1225.2,271.3 1227.7,271.1 1230.2,271.2 1232.7,271.5 1235.1,272.0 1237.5,272.7 1239.9,273.5 1242.2,274.5 1244.4,275.7 1246.6,276.9 1248.7,278.2 1250.8,279.6 1252.8,281.1 1254.8,282.6 1256.7,284.2 1258.6,285.9 1260.4,287.6 1262.2,289.4 1263.9,291.2 1265.6,293.1 1267.2,295.0 1268.8,296.9 1270.3,298.9 1271.9,300.9 1273.3,302.9 1274.8,304.9 1276.2,307.0 1277.6,309.1 1278.9,311.2 1280.3,313.3 1281.6,315.4 1282.9,317.6 1284.2,319.7 1285.5,321.9 1286.7,324.0 1288.0,326.2 1289.2,328.4 1290.4,330.6 1291.6,332.8 1292.8,335.0 1294.0,337.2 1295.2,339.4 1296.4,341.6 1297.5,343.8 1298.7,346.0 1299.8,348.3 1301.0,350.5 1302.1,352.7 1303.2,355.0 1304.3,357.2 1305.4,359.4 1306.5,361.7 1307.6,363.9 1308.7,366.2 1309.8,368.4 1310.9,370.7 1312.0,372.9 1313.1,375.2 1314.2,377.5 1315.3,379.7 1316.3,382.0 1317.4,384.2 1318.5,386.5 1319.5,388.8 1320.6,391.1 1321.6,393.3 1322.7,395.6 1323.7,397.9 1324.8,400.1 1325.8,402.4 1326.9,404.7 1327.9,407.0 1328.9,409.3 1329.9,411.6 1331.0,413.8 1332.0,416.1 1333.0,418.4 1334.0,420.7 1335.0,423.0 1336.0,425.3 1337.0,427.6 1338.0,429.9 1339.0,432.2 1340.0,434.5 1341.0,436.8 1342.0,439.1 1343.0,441.4 1344.0,443.7 1344.9,446.0 1345.9,448.3 1346.9,450.6 1347.9,452.9 1348.8,455.2 1349.8,457.5 1350.7,459.8 1351.7,462.2 1352.7,464.5 1353.6,466.8 1354.6,469.1 1355.5,471.4 1356.5,473.7 1357.4,476.0 1358.4,478.4 1359.3,480.7 1360.2,483.0 1361.2,485.3 1362.1,487.7 1363.0,490.0 1364.0,492.3 1364.9,494.6 1365.8,497.0 1366.7,499.3 1367.7,501.6 1368.6,503.9 1369.5,506.3 1370.4,508.6 1371.3,510.9 1372.2,513.3 1373.1,515.6 1374.0,517.9 1375.0,520.3 1375.9,522.6 1376.8,524.9 1377.7,527.3 1378.6,529.6 1379.5,531.9 1380.4,534.3 1381.3,536.6 1382.1,539.0 1383.0,541.3 1383.9,543.6 1384.8,546.0 1385.7,548.3 1386.6,550.7 1387.5,553.0 1388.4,555.3 1389.3,557.7 1390.1,560.0 1391.0,562.4 1391.9,564.7 1392.8,567.1 1393.7,569.4 1394.6,571.7 1395.4,574.1 1396.3,576.4 1397.2,578.8 1398.1,581.1 1398.9,583.5 1399.8,585.8 1400.7,588.2 1401.6,590.5 1402.4,592.9 1403.3,595.2 1404.2,597.5 1405.1,599.9 1405.9,602.2 1406.8,604.6 1407.7,606.9 1408.5,609.3 1409.4,611.6 1410.3,614.0 1411.2,616.3 1412.0,618.7 1412.9,621.0 1413.8,623.4 1414.6,625.7 1415.5,628.1 1416.4,630.4 1417.3,632.8 1418.1,635.1 1419.0,637.4 1419.9,639.8 1420.8,642.1 1421.6,644.5 1422.5,646.8 1423.4,649.2 1424.3,651.5 1425.1,653.9 1426.0,656.2 1426.9,658.6 1427.8,660.9 1428.6,663.2 1429.5,665.6 1430.4,667.9 1431.3,670.3 1432.2,672.6 1433.1,675.0 1434.0,677.3 1434.8,679.6 1435.7,682.0 1436.6,684.3 1437.5,686.7 1438.4,689.0 1439.3,691.3 1440.2,693.7 1441.1,696.0 1442.0,698.3 1442.9,700.7 1443.8,703.0 1444.8,705.3 1445.7,707.7 1446.6,710.0 1447.5,712.3 1448.4,714.7 1449.4,717.0 1450.3,719.3 1451.2,721.6 1452.1,724.0 1453.1,726.3 1454.0,728.6 1455.0,730.9 1455.9,733.2 1456.9,735.5 1457.8,737.9 1458.8,740.2 1459.7,742.5 1460.7,744.8 1461.7,747.1 1462.6,749.4 1463.6,751.7 1464.6,754.0 1465.6,756.3 1466.6,758.6 1467.6,760.9 1468.6,763.2 1469.6,765.5 1470.6,767.8 1471.6,770.1 1472.6,772.4 1473.6,774.7 1474.7,777.0 1475.7,779.2 1476.7,781.5 1477.8,783.8 1478.8,786.1 1479.8,788.3 1480.9,790.6 1482.0,792.9 1483.0,795.1 1484.1,797.4 1485.2,799.7 1486.3,801.9 1487.3,804.2 1488.4,806.4 1489.5,808.7 1490.6,810.9 1491.8,813.2 1492.9,815.4 1494.0,817.7 1495.1,819.9 1496.3,822.1 1497.4,824.3 1498.6,826.6 1499.7,828.8 1500.9,831.0 1502.0,833.2 1503.2,835.4 1504.4,837.6 1505.6,839.8 1506.8,842.1 1508.0,844.2 1509.2,846.4 1510.4,848.6 1511.6,850.8 1512.9,853.0 1514.1,855.2 1515.3,857.3 1516.6,859.5 1517.8,861.7 1519.1,863.8 1520.4,866.0 1521.7,868.1 1523.0,870.3 1524.3,872.4 1525.6,874.6 1526.9,876.7 1528.2,878.8 1529.5,880.9 1530.9,883.1 1532.2,885.2 1533.6,887.3 1534.9,889.4 1536.3,891.5 1537.7,893.6 1539.1,895.7 1540.4,897.7 1541.9,899.8 1543.3,901.9 1544.7,903.9 1546.1,906.0 1547.5,908.0 1549.0,910.1 1550.4,912.1 1551.9,914.2 1553.4,916.2 1554.9,918.2 1556.3,920.2 1557.8,922.2 1559.4,924.2 1560.9,926.2 1562.4,928.2 1563.9,930.2 1565.5,932.2 1567.0,934.1 1568.6,936.1 1570.1,938.0 1571.7,940.0 1573.3,941.9 1574.9,943.8 1576.5,945.8 1578.1,947.7 1579.8,949.6 1581.4,951.5 1583.0,953.4 1584.7,955.3 1586.3,957.1 1588.0,959.0 1589.7,960.8 1591.4,962.7 1593.1,964.5 1594.8,966.4 1596.5,968.2 1598.2,970.0 1600.0,971.8 1601.7,973.6 1603.5,975.4 1605.2,977.2 1607.0,978.9 1608.8,980.7 1610.6,982.5 1612.4,984.2 1614.2,985.9 1616.0,987.6 1617.8,989.4 1619.7,991.1 1621.5,992.8 1623.4,994.4 1625.2,996.1 1627.1,997.8 1629.0,999.4 1630.9,1001.0 1632.8,1002.7 1634.7,1004.3 1636.6,1005.9 1638.6,1007.5 1640.5,1009.1 1642.5,1010.6 1644.4,1012.2 1646.4,1013.7 1648.4,1015.2 1650.4,1016.8 1652.4,1018.3 1654.4,1019.8 1656.4,1021.2 1658.4,1022.7 1660.5,1024.2 1662.5,1025.6 1664.6,1027.0 1666.6,1028.4 1668.7,1029.8 1670.8,1031.2 1672.9,1032.6 1675.0,1033.9 1677.1,1035.3 1679.2,1036.6 1681.4,1037.9 1683.5,1039.2 1685.7,1040.5 1687.8,1041.7 1690.0,1043.0 1692.2,1044.2 1694.4,1045.4 1696.6,1046.6 1698.8,1047.8 1701.0,1049.0 1703.2,1050.1 1705.5,1051.3 1707.7,1052.4 1709.9,1053.5 1712.2,1054.6 1714.5,1055.6 1716.7,1056.7 1719.0,1057.7 1721.3,1058.7 1723.6,1059.7 1725.9,1060.7 1728.2,1061.7 1730.5,1062.7 1732.8,1063.6 1735.2,1064.5 1737.5,1065.5 1739.8,1066.4 1742.2,1067.3 1744.5,1068.1 1746.9,1069.0 1749.2,1069.8 1751.6,1070.7 1753.9,1071.5 1756.3,1072.3 1758.7,1073.1 1761.1,1073.8 1763.5,1074.6 1765.9,1075.4 1768.2,1076.1 1770.6,1076.8 1773.0,1077.5 1775.4,1078.2 1777.9,1078.9 1780.3,1079.6 1782.7,1080.2 1785.1,1080.9 1787.5,1081.5 1789.9,1082.2 1792.4,1082.8 1794.8,1083.4 1797.2,1084.0 1799.7,1084.5 1802.1,1085.1 1804.5,1085.7 1807.0,1086.2 1809.4,1086.8 1811.9,1087.3 1814.3,1087.8 1816.8,1088.3 1819.2,1088.8 1821.7,1089.3 1824.2,1089.8 1826.6,1090.2 1829.1,1090.7 1831.5,1091.1 1834.0,1091.6 1836.5,1092.0 1838.9,1092.4 1841.4,1092.8 1843.9,1093.2 1846.4,1093.6 1848.8,1094.0 1851.3,1094.4 1853.8,1094.8 1856.3,1095.1 1858.7,1095.5 1861.2,1095.8 1863.7,1096.2 1866.2,1096.5 1868.7,1096.8 1871.1,1097.1 1873.6,1097.5 1876.1,1097.8 1878.6,1098.1 1881.1,1098.3 1883.6,1098.6 1886.1,1098.9 1888.5,1099.2 1891.0,1099.5 1893.5,1099.7 1896.0,1100.0 1898.5,1100.2 1901.0,1100.5 1903.5,1100.7 1906.0,1100.9 1908.5,1101.2 1911.0,1101.4 1913.5,1101.6 1916.0,1101.8 1918.5,1102.1 1921.0,1102.3 1923.4,1102.5 1925.9,1102.7 1928.4,1102.9 1930.9,1103.1 1933.4,1103.3 1935.9,1103.5 1938.4,1103.7 1940.9,1103.8 1943.4,1104.0 1945.9,1104.2 1948.4,1104.4 1950.9,1104.6 1953.4,1104.7 1955.9,1104.9 1958.4,1105.1 1960.9,1105.3 1963.4,1105.4 1965.9,1105.6 1968.4,1105.8 1970.9,1106.0 1973.4,1106.1 1975.9,1106.3 1978.4,1106.5 1980.9,1106.6 1983.4,1106.8 1985.9,1107.0 1988.4,1107.2 1990.9,1107.3 1993.4,1107.5 1995.9,1107.7 1998.4,1107.8 2000.9,1108.0 2003.4,1108.2 2005.9,1108.4 2008.4,1108.5 2010.9,1108.7 2013.4,1108.9 2015.9,1109.0 2018.3,1109.2 2020.8,1109.4 2023.3,1109.5 2025.8,1109.7 2028.3,1109.9 2030.8,1110.0 2033.3,1110.2 2035.8,1110.4 2038.3,1110.5 2040.8,1110.7 2043.3,1110.8 2045.8,1111.0 2048.3,1111.2 2050.8,1111.3 2053.3,1111.5 2055.8,1111.6 2058.3,1111.8 2060.8,1111.9 2063.3,1112.1 2065.8,1112.2 2068.3,1112.3 2070.8,1112.5 2073.3,1112.6 2075.8,1112.8 2078.3,1112.9 2080.8,1113.0 2083.3,1113.2 2085.8,1113.3 2088.3,1113.4 2090.8,1113.5 2093.3,1113.6 2095.8,1113.8 2098.3,1113.9 2100.8,1114.0 2103.3,1114.1 2105.8,1114.2 2108.3,1114.3 2110.8,1114.4 2113.3,1114.5 2115.8,1114.6 2118.3,1114.7 2120.8,1114.8 2123.4,1114.8 2125.9,1114.9 2128.4,1115.0 2130.9,1115.1 2133.4,1115.1 2135.9,1115.2 2138.4,1115.3 2140.9,1115.3 2143.4,1115.4 2145.9,1115.4 2148.4,1115.4 2150.9,1115.5 2153.4,1115.5 2155.9,1115.5 2158.4,1115.6 2160.9,1115.6 2163.4,1115.6 2165.9,1115.6 2168.4,1115.6 2170.9,1115.6 2173.4,1115.6 2175.9,1115.6 2178.4,1115.6 2180.9,1115.6" fill="none" stroke="#f00" stroke-width="7.6" stroke-linejoin="round" stroke-linecap="butt"/>
<polyline points="60.0,1111.5 65.0,1113.0 70.0,1113.6 75.0,1111.4 80.0,1111.5 85.0,1111.1 90.0,1110.7 95.0,1112.7 100.0,1112.8 105.0,1112.4 110.0,1111.9 115.0,1112.6 120.0,1112.1 125.0,1111.8 130.0,1110.9 135.0,1111.4 140.0,1113.4 145.0,1112.6 150.0,1112.7 155.0,1112.5 160.0,1112.0 165.0,1112.2 170.0,1113.0 175.0,1112.5 180.0,1112.4 185.0,1113.1 190.0,1114.2 195.0,1114.0 200.0,1113.1 205.0,1111.7 210.0,1111.3 215.0,1113.6 220.0,1114.0 225.0,1113.1 230.0,1113.5 235.0,1114.1 240.0,1114.2 245.0,1113.9 250.0,1113.1 255.0,1113.8 260.0,1112.3 265.0,1113.4 270.0,1113.9 275.0,1114.6 280.0,1115.7 285.0,1114.7 290.0,1111.5 295.0,1110.9 300.0,1112.7 305.0,1112.0 310.0,1112.7 315.0,1113.1 320.0,1110.6 325.0,1110.1 330.0,1112.4 335.0,1112.9 340.0,1112.6 345.0,1112.5 350.0,1111.4 355.0,1110.9 360.0,1111.8 365.0,1111.2 370.0,1111.0 375.0,1112.8 380.0,1113.2 385.0,1113.0 390.0,1111.8 395.0,1111.5 400.0,1111.3 405.0,1111.7 410.0,1112.6 415.0,1112.3 420.0,1113.2 425.0,1114.2 430.0,1114.8 435.0,1112.5 440.0,1113.4 445.0,1113.2 450.0,1112.4 455.0,1111.3 460.0,1112.3 465.0,1113.6 470.0,1113.2 475.0,1113.0 480.0,1113.2 485.0,1114.2 490.0,1112.6 495.0,1110.4 500.0,1110.8 505.0,1109.5 510.0,1108.7 515.0,1111.8 520.0,1114.4 525.0,1113.2 530.0,1111.5 535.0,1112.1 540.0,1114.1 545.0,1113.7 550.0,1113.2 555.0,1113.1 560.0,1113.4 565.0,1114.2 570.0,1114.1 575.0,1113.2 580.0,1112.3 585.0,1113.1 590.0,1113.0 595.0,1113.7 600.0,1112.2 605.0,1112.6 610.0,1112.7 615.0,1112.4 620.0,1115.1 625.0,1115.3 630.0,1113.5 635.0,1114.0 640.0,1113.0 645.0,1110.6 650.0,1112.6 655.0,1113.3 660.0,1112.9 665.0,1112.0 670.0,1112.5 675.0,1113.4 680.0,1114.6 685.0,1114.1 690.0,1114.0 695.0,1114.8 700.0,1113.1 705.0,1112.0 710.0,1111.8 715.0,1114.7 720.0,1115.3 725.0,1114.9 730.0,1114.4 735.0,1113.8 740.0,1113.5 745.0,1113.1 750.0,1113.1 755.0,1113.9 760.0,1115.2 765.0,1114.5 770.0,1113.3 775.0,1112.5 780.0,1113.1 785.0,1115.1 790.0,1114.6 795.0,1113.6 800.0,1112.7 805.0,1112.1 810.0,1113.3 815.0,1114.2 820.0,1113.3 825.0,1113.0 830.0,1113.2 835.0,1113.0 840.0,1111.7 845.0,1112.7 852.2,1108.0 854.6,1107.5 857.1,1107.0 859.5,1106.6 862.0,1106.2 864.5,1105.9 867.0,1105.6 869.5,1105.4 872.0,1105.1 874.5,1104.9 877.0,1104.7 879.4,1104.5 881.9,1104.3 884.4,1104.1 886.9,1103.9 889.4,1103.7 891.9,1103.5 894.4,1103.2 896.9,1103.0 899.4,1102.7 901.9,1102.3 904.4,1102.0 906.8,1101.5 909.3,1101.1 911.7,1100.6 914.2,1100.0 916.6,1099.3 919.0,1098.6 921.4,1097.8 923.7,1097.0 926.1,1096.1 928.4,1095.1 930.6,1094.0 932.9,1092.9 935.1,1091.8 937.3,1090.6 939.5,1089.3 941.6,1088.0 943.7,1086.6 945.8,1085.2 947.8,1083.8 949.8,1082.3 951.8,1080.7 953.7,1079.1 955.6,1077.5 957.5,1075.9 959.4,1074.2 961.2,1072.5 963.0,1070.8 964.8,1069.0 966.5,1067.2 968.2,1065.4 969.9,1063.5 971.6,1061.6 973.2,1059.7 974.8,1057.8 976.4,1055.8 977.9,1053.8 979.4,1051.9 980.9,1049.8 982.3,1047.8 983.8,1045.7 985.2,1043.7 986.5,1041.6 987.9,1039.5 989.2,1037.3 990.5,1035.2 991.8,1033.0 993.0,1030.9 994.2,1028.7 995.4,1026.5 996.6,1024.3 997.8,1022.0 998.9,1019.8 1000.0,1017.6 1001.1,1015.3 1002.2,1013.0 1003.3,1010.8 1004.3,1008.5 1005.3,1006.2 1006.3,1003.9 1007.3,1001.6 1008.3,999.3 1009.2,997.0 1010.2,994.7 1011.1,992.3 1012.0,990.0 1012.9,987.7 1013.8,985.3 1014.7,983.0 1015.5,980.6 1016.4,978.3 1017.2,975.9 1018.1,973.6 1018.9,971.2 1019.7,968.8 1020.5,966.5 1021.3,964.1 1022.1,961.7 1022.9,959.3 1023.7,957.0 1024.5,954.6 1025.3,952.2 1026.1,949.8 1026.9,947.5 1027.6,945.1 1028.4,942.7 1029.2,940.3 1029.9,937.9 1030.7,935.5 1031.4,933.1 1032.2,930.8 1032.9,928.4 1033.7,926.0 1034.4,923.6 1035.2,921.2 1035.9,918.8 1036.6,916.4 1037.4,914.0 1038.1,911.6 1038.8,909.2 1039.6,906.8 1040.3,904.4 1041.0,902.0 1041.7,899.6 1042.4,897.2 1043.1,894.8 1043.8,892.4 1044.5,890.0 1045.2,887.6 1045.9,885.2 1046.6,882.8 1047.3,880.4 1048.0,878.0 1048.7,875.6 1049.4,873.2 1050.1,870.8 1050.7,868.3 1051.4,865.9 1052.1,863.5 1052.8,861.1 1053.4,858.7 1054.1,856.3 1054.8,853.9 1055.4,851.4 1056.1,849.0 1056.7,846.6 1057.4,844.2 1058.0,841.8 1058.7,839.4 1059.3,836.9 1060.0,834.5 1060.6,832.1 1061.3,829.7 1061.9,827.3 1062.5,824.8 1063.2,822.4 1063.8,820.0 1064.4,817.6 1065.1,815.1 1065.7,812.7 1066.3,810.3 1066.9,807.9 1067.5,805.4 1068.2,803.0 1068.8,800.6 1069.4,798.2 1070.0,795.7 1070.6,793.3 1071.2,790.9 1071.8,788.4 1072.4,786.0 1073.0,783.6 1073.6,781.1 1074.2,778.7 1074.8,776.3 1075.4,773.8 1076.0,771.4 1076.6,769.0 1077.2,766.5 1077.8,764.1 1078.4,761.7 1079.0,759.2 1079.6,756.8 1080.1,754.4 1080.7,751.9 1081.3,749.5 1081.9,747.1 1082.5,744.6 1083.0,742.2 1083.6,739.8 1084.2,737.3 1084.8,734.9 1085.3,732.4 1085.9,730.0 1086.5,727.6 1087.0,725.1 1087.6,722.7 1088.2,720.2 1088.7,717.8 1089.3,715.4 1089.9,712.9 1090.4,710.5 1091.0,708.0 1091.5,705.6 1092.1,703.2 1092.7,700.7 1093.2,698.3 1093.8,695.8 1094.3,693.4 1094.9,690.9 1095.4,688.5 1096.0,686.1 1096.5,683.6 1097.1,681.2 1097.6,678.7 1098.2,676.3 1098.7,673.8 1099.3,671.4 1099.8,669.0 1100.4,666.5 1100.9,664.1 1101.5,661.6 1102.0,659.2 1102.6,656.7 1103.1,654.3 1103.7,651.9 1104.2,649.4 1104.8,647.0 1105.3,644.5 1105.8,642.1 1106.4,639.6 1106.9,637.2 1107.5,634.7 1108.0,632.3 1108.6,629.9 1109.1,627.4 1109.7,625.0 1110.2,622.5 1110.7,620.1 1111.3,617.6 1111.8,615.2 1112.4,612.7 1112.9,610.3 1113.5,607.9 1114.0,605.4 1114.6,603.0 1115.1,600.5 1115.6,598.1 1116.2,595.6 1116.7,593.2 1117.3,590.7 1117.8,588.3 1118.4,585.9 1118.9,583.4 1119.5,581.0 1120.0,578.5 1120.6,576.1 1121.1,573.6 1121.7,571.2 1122.2,568.8 1122.8,566.3 1123.3,563.9 1123.9,561.4 1124.5,559.0 1125.0,556.5 1125.6,554.1 1126.1,551.7 1126.7,549.2 1127.2,546.8 1127.8,544.3 1128.4,541.9 1128.9,539.5 1129.5,537.0 1130.1,534.6 1130.6,532.1 1131.2,529.7 1131.8,527.3 1132.3,524.8 1132.9,522.4 1133.5,520.0 1134.1,517.5 1134.7,515.1 1135.2,512.6 1135.8,510.2 1136.4,507.8 1137.0,505.3 1137.6,502.9 1138.2,500.5 1138.7,498.0 1139.3,495.6 1139.9,493.2 1140.5,490.7 1141.1,488.3 1141.7,485.9 1142.3,483.4 1142.9,481.0 1143.5,478.6 1144.1,476.1 1144.7,473.7 1145.4,471.3 1146.0,468.9 1146.6,466.4 1147.2,464.0 1147.8,461.6 1148.4,459.1 1149.1,456.7 1149.7,454.3 1150.3,451.9 1150.9,449.5 1151.6,447.0 1152.2,444.6 1152.9,442.2 1153.5,439.8 1154.1,437.3 1154.8,434.9 1155.4,432.5 1156.1,430.1 1156.7,427.7 1157.4,425.3 1158.1,422.8 1158.7,420.4 1159.4,418.0 1160.1,415.6 1160.7,413.2 1161.4,410.8 1162.1,408.4 1162.8,406.0 1163.5,403.5 1164.1,401.1 1164.8,398.7 1165.5,396.3 1166.2,393.9 1166.9,391.5 1167.6,389.1 1168.3,386.7 1169.0,384.3 1169.8,381.9 1170.5,379.5 1171.2,377.1 1171.9,374.7 1172.7,372.3 1173.4,369.9 1174.1,367.5 1174.9,365.1 1175.6,362.7 1176.4,360.3 1177.1,358.0 1177.9,355.6 1178.6,353.2 1179.4,350.8 1180.1,348.4 1180.9,346.0 1181.7,343.7 1182.5,341.3 1183.3,338.9 1184.0,336.5 1184.8,334.1 1185.6,331.8 1186.4,329.4 1187.2,327.0 1188.0,324.6 1188.8,322.3 1189.6,319.9 1190.4,317.5 1191.3,315.2 1192.1,312.8 1192.9,310.4 1193.7,308.1 1194.5,305.7 1195.3,303.3 1196.1,300.9 1196.9,298.6 1197.7,296.2 1198.6,293.8 1199.4,291.5 1200.2,289.1 1201.0,286.7 1201.8,284.3 1202.6,282.0 1203.3,279.6 1204.1,277.2 1204.9,274.8 1205.7,272.5 1206.5,270.1 1207.2,267.7 1208.0,265.3 1208.8,262.9 1209.5,260.5 1210.3,258.2 1211.0,255.8 1211.8,253.4 1212.5,251.0 1213.3,248.6 1214.1,246.2 1214.9,243.9 1215.7,241.5 1216.6,239.1 1217.4,236.8 1218.4,234.4 1219.3,232.1 1220.3,229.8 1221.3,227.5 1222.4,225.3 1223.5,223.1 1224.7,220.9 1226.0,218.7 1227.3,216.6 1228.7,214.5 1230.1,212.4 1231.7,210.4 1233.3,208.5 1234.9,206.7 1236.7,204.9 1238.5,203.2 1240.4,201.5 1242.4,199.9 1244.4,198.5 1246.5,197.1 1248.6,195.7 1250.8,194.5 1253.0,193.4 1255.3,192.4 1257.6,191.5 1260.0,190.7 1262.4,190.0 1264.8,189.4 1267.3,189.0 1269.8,188.8 1272.3,188.7 1274.8,188.8 1277.3,189.1 1279.8,189.5 1282.2,190.2 1284.5,191.1 1286.8,192.1 1289.0,193.4 1291.1,194.8 1293.1,196.3 1295.0,197.9 1296.8,199.5 1298.6,201.3 1300.3,203.1 1302.0,205.0 1303.6,206.9 1305.2,208.9 1306.7,210.8 1308.2,212.8 1309.7,214.9 1311.1,216.9 1312.5,219.0 1313.9,221.1 1315.2,223.2 1316.6,225.3 1317.9,227.5 1319.2,229.6 1320.5,231.8 1321.7,233.9 1323.0,236.1 1324.3,238.2 1325.5,240.4 1326.8,242.6 1328.0,244.7 1329.3,246.9 1330.5,249.1 1331.7,251.3 1332.9,253.5 1334.1,255.7 1335.3,257.9 1336.5,260.1 1337.7,262.3 1338.8,264.5 1340.0,266.7 1341.1,269.0 1342.3,271.2 1343.4,273.4 1344.5,275.7 1345.7,277.9 1346.8,280.2 1347.9,282.4 1349.0,284.7 1350.1,286.9 1351.1,289.2 1352.2,291.4 1353.3,293.7 1354.3,296.0 1355.4,298.2 1356.4,300.5 1357.5,302.8 1358.5,305.1 1359.5,307.4 1360.5,309.7 1361.5,312.0 1362.5,314.3 1363.5,316.6 1364.5,318.9 1365.5,321.2 1366.5,323.5 1367.4,325.8 1368.4,328.1 1369.4,330.4 1370.3,332.7 1371.2,335.0 1372.2,337.4 1373.1,339.7 1374.0,342.0 1375.0,344.3 1375.9,346.7 1376.8,349.0 1377.7,351.3 1378.6,353.7 1379.5,356.0 1380.4,358.4 1381.3,360.7 1382.2,363.0 1383.0,365.4 1383.9,367.7 1384.8,370.1 1385.7,372.4 1386.5,374.8 1387.4,377.1 1388.2,379.5 1389.1,381.8 1389.9,384.2 1390.8,386.6 1391.6,388.9 1392.4,391.3 1393.3,393.6 1394.1,396.0 1394.9,398.4 1395.8,400.7 1396.6,403.1 1397.4,405.5 1398.2,407.8 1399.0,410.2 1399.8,412.6 1400.6,414.9 1401.4,417.3 1402.2,419.7 1403.0,422.1 1403.8,424.4 1404.6,426.8 1405.4,429.2 1406.2,431.6 1406.9,434.0 1407.7,436.3 1408.5,438.7 1409.3,441.1 1410.1,443.5 1410.8,445.9 1411.6,448.2 1412.4,450.6 1413.1,453.0 1413.9,455.4 1414.7,457.8 1415.4,460.2 1416.2,462.6 1416.9,464.9 1417.7,467.3 1418.4,469.7 1419.2,472.1 1420.0,474.5 1420.7,476.9 1421.5,479.3 1422.2,481.7 1422.9,484.1 1423.7,486.4 1424.4,488.8 1425.2,491.2 1425.9,493.6 1426.7,496.0 1427.4,498.4 1428.2,500.8 1428.9,503.2 1429.6,505.6 1430.4,508.0 1431.1,510.4 1431.9,512.8 1432.6,515.1 1433.3,517.5 1434.1,519.9 1434.8,522.3 1435.6,524.7 1436.3,527.1 1437.0,529.5 1437.8,531.9 1438.5,534.3 1439.3,536.7 1440.0,539.1 1440.7,541.5 1441.5,543.9 1442.2,546.2 1443.0,548.6 1443.7,551.0 1444.5,553.4 1445.2,555.8 1445.9,558.2 1446.7,560.6 1447.4,563.0 1448.2,565.4 1448.9,567.8 1449.7,570.2 1450.4,572.5 1451.2,574.9 1451.9,577.3 1452.7,579.7 1453.4,582.1 1454.2,584.5 1454.9,586.9 1455.7,589.3 1456.5,591.7 1457.2,594.0 1458.0,596.4 1458.8,598.8 1459.5,601.2 1460.3,603.6 1461.1,606.0 1461.8,608.3 1462.6,610.7 1463.4,613.1 1464.1,615.5 1464.9,617.9 1465.7,620.3 1466.5,622.6 1467.3,625.0 1468.0,627.4 1468.8,629.8 1469.6,632.1 1470.4,634.5 1471.2,636.9 1472.0,639.3 1472.8,641.6 1473.6,644.0 1474.4,646.4 1475.2,648.8 1476.0,651.1 1476.8,653.5 1477.7,655.9 1478.5,658.2 1479.3,660.6 1480.1,663.0 1480.9,665.3 1481.8,667.7 1482.6,670.1 1483.4,672.4 1484.3,674.8 1485.1,677.1 1485.9,679.5 1486.8,681.9 1487.6,684.2 1488.5,686.6 1489.4,688.9 1490.2,691.3 1491.1,693.6 1491.9,696.0 1492.8,698.3 1493.7,700.7 1494.6,703.0 1495.4,705.4 1496.3,707.7 1497.2,710.0 1498.1,712.4 1499.0,714.7 1499.9,717.1 1500.8,719.4 1501.7,721.7 1502.6,724.1 1503.5,726.4 1504.5,728.7 1505.4,731.0 1506.3,733.4 1507.3,735.7 1508.2,738.0 1509.1,740.3 1510.1,742.7 1511.0,745.0 1512.0,747.3 1512.9,749.6 1513.9,751.9 1514.9,754.2 1515.8,756.5 1516.8,758.8 1517.8,761.1 1518.8,763.4 1519.8,765.7 1520.8,768.0 1521.8,770.3 1522.8,772.6 1523.8,774.9 1524.8,777.2 1525.8,779.5 1526.9,781.8 1527.9,784.1 1528.9,786.3 1530.0,788.6 1531.0,790.9 1532.1,793.2 1533.1,795.4 1534.2,797.7 1535.3,800.0 1536.3,802.2 1537.4,804.5 1538.5,806.7 1539.6,809.0 1540.7,811.2 1541.8,813.5 1542.9,815.7 1544.0,818.0 1545.1,820.2 1546.3,822.5 1547.4,824.7 1548.5,826.9 1549.7,829.2 1550.8,831.4 1552.0,833.6 1553.1,835.8 1554.3,838.0 1555.5,840.3 1556.6,842.5 1557.8,844.7 1559.0,846.9 1560.2,849.1 1561.4,851.3 1562.6,853.5 1563.8,855.7 1565.1,857.8 1566.3,860.0 1567.5,862.2 1568.8,864.4 1570.0,866.5 1571.3,868.7 1572.6,870.9 1573.8,873.0 1575.1,875.2 1576.4,877.3 1577.7,879.5 1579.0,881.6 1580.3,883.7 1581.6,885.9 1583.0,888.0 1584.3,890.1 1585.7,892.2 1587.0,894.3 1588.4,896.4 1589.8,898.5 1591.1,900.6 1592.5,902.7 1593.9,904.8 1595.3,906.8 1596.8,908.9 1598.2,911.0 1599.6,913.0 1601.1,915.0 1602.5,917.1 1604.0,919.1 1605.5,921.1 1607.0,923.1 1608.5,925.2 1610.0,927.2 1611.5,929.1 1613.0,931.1 1614.5,933.1 1616.1,935.1 1617.7,937.0 1619.2,939.0 1620.8,940.9 1622.4,942.9 1624.0,944.8 1625.6,946.7 1627.2,948.6 1628.9,950.5 1630.5,952.4 1632.2,954.3 1633.9,956.1 1635.5,958.0 1637.2,959.8 1638.9,961.7 1640.7,963.5 1642.4,965.3 1644.1,967.1 1645.9,968.9 1647.7,970.7 1649.4,972.4 1651.2,974.2 1653.0,975.9 1654.8,977.6 1656.7,979.4 1658.5,981.1 1660.3,982.7 1662.2,984.4 1664.1,986.1 1666.0,987.7 1667.8,989.4 1669.7,991.0 1671.7,992.6 1673.6,994.2 1675.5,995.8 1677.5,997.4 1679.4,999.0 1681.4,1000.5 1683.4,1002.1 1685.3,1003.6 1687.3,1005.1 1689.3,1006.6 1691.3,1008.1 1693.4,1009.6 1695.4,1011.0 1697.4,1012.5 1699.5,1013.9 1701.6,1015.4 1703.6,1016.8 1705.7,1018.2 1707.8,1019.6 1709.9,1020.9 1712.0,1022.3 1714.1,1023.6 1716.2,1025.0 1718.3,1026.3 1720.5,1027.6 1722.6,1028.9 1724.8,1030.2 1726.9,1031.5 1729.1,1032.7 1731.3,1034.0 1733.4,1035.2 1735.6,1036.4 1737.8,1037.6 1740.0,1038.8 1742.2,1040.0 1744.4,1041.2 1746.7,1042.3 1748.9,1043.5 1751.1,1044.6 1753.4,1045.7 1755.6,1046.8 1757.9,1047.9 1760.1,1049.0 1762.4,1050.0 1764.7,1051.1 1767.0,1052.1 1769.3,1053.1 1771.6,1054.1 1773.9,1055.1 1776.2,1056.1 1778.5,1057.1 1780.8,1058.0 1783.1,1059.0 1785.4,1059.9 1787.8,1060.8 1790.1,1061.7 1792.4,1062.6 1794.8,1063.5 1797.1,1064.3 1799.5,1065.2 1801.9,1066.0 1804.2,1066.8 1806.6,1067.6 1809.0,1068.4 1811.3,1069.2 1813.7,1070.0 1816.1,1070.7 1818.5,1071.5 1820.9,1072.2 1823.3,1072.9 1825.7,1073.6 1828.1,1074.3 1830.5,1075.0 1832.9,1075.7 1835.3,1076.3 1837.8,1077.0 1840.2,1077.6 1842.6,1078.3 1845.0,1078.9 1847.5,1079.5 1849.9,1080.1 1852.3,1080.6 1854.8,1081.2 1857.2,1081.8 1859.7,1082.3 1862.1,1082.9 1864.6,1083.4 1867.0,1083.9 1869.5,1084.4 1871.9,1084.9 1874.4,1085.4 1876.8,1085.9 1879.3,1086.4 1881.8,1086.8 1884.2,1087.3 1886.7,1087.7 1889.1,1088.2 1891.6,1088.6 1894.1,1089.0 1896.5,1089.5 1899.0,1089.9 1901.5,1090.3 1904.0,1090.7 1906.4,1091.0 1908.9,1091.4 1911.4,1091.8 1913.9,1092.2 1916.3,1092.5 1918.8,1092.9 1921.3,1093.2 1923.8,1093.6 1926.3,1093.9 1928.8,1094.2 1931.2,1094.5 1933.7,1094.9 1936.2,1095.2 1938.7,1095.5 1941.2,1095.8 1943.7,1096.1 1946.2,1096.4 1948.6,1096.7 1951.1,1096.9 1953.6,1097.2 1956.1,1097.5 1958.6,1097.8 1961.1,1098.0 1963.6,1098.3 1966.1,1098.6 1968.6,1098.8 1971.0,1099.1 1973.5,1099.3 1976.0,1099.6 1978.5,1099.8 1981.0,1100.0 1983.5,1100.3 1986.0,1100.5 1988.5,1100.7 1991.0,1101.0 1993.5,1101.2 1996.0,1101.4 1998.5,1101.6 2001.0,1101.8 2003.5,1102.1 2006.0,1102.3 2008.5,1102.5 2011.0,1102.7 2013.5,1102.9 2015.9,1103.1 2018.4,1103.3 2020.9,1103.5 2023.4,1103.6 2025.9,1103.8 2028.4,1104.0 2030.9,1104.2 2033.4,1104.4 2035.9,1104.6 2038.4,1104.7 2040.9,1104.9 2043.4,1105.1 2045.9,1105.2 2048.4,1105.4 2050.9,1105.6 2053.4,1105.7 2055.9,1105.9 2058.4,1106.1 2060.9,1106.2 2063.4,1106.4 2065.9,1106.5 2068.4,1106.7 2070.9,1106.8 2073.4,1107.0 2075.9,1107.1 2078.4,1107.2 2080.9,1107.4 2083.4,1107.5 2085.9,1107.7 2088.4,1107.8 2090.9,1107.9 2093.4,1108.1 2095.9,1108.2 2098.4,1108.3 2100.9,1108.4 2103.4,1108.6 2105.9,1108.7 2108.4,1108.8 2110.9,1108.9 2113.4,1109.1 2115.9,1109.2 2118.4,1109.3 2120.9,1109.4 2123.4,1109.5 2125.9,1109.7 2128.4,1109.8 2130.9,1109.9 2133.4,1110.0 2135.9,1110.1 2138.4,1110.2 2140.9,1110.3 2143.5,1110.5 2146.0,1110.6 2148.5,1110.7 2151.0,1110.8 2153.5,1110.9 2156.0,1111.0 2158.5,1111.1 2161.0,1111.2 2163.5,1111.3 2166.0,1111.4 2168.5,1111.5 2171.0,1111.6 2173.5,1111.7 2176.0,1111.8 2178.5,1111.9 2181.0,1112.0" fill="none" stroke="#00f" stroke-width="7.6" stroke-linejoin="round" stroke-linecap="butt"/>
<polyline points="60.0,1105.6 65.0,1105.7 70.0,1105.0 75.0,1104.3 80.0,1104.4 85.0,1104.4 90.0,1105.8 95.0,1106.9 100.0,1105.4 105.0,1105.0 110.0,1106.1 115.0,1106.3 120.0,1105.6 125.0,1104.8 130.0,1105.6 135.0,1106.0 140.0,1104.4 145.0,1104.2 150.0,1103.2 155.0,1103.1 160.0,1103.3 165.0,1104.5 170.0,1104.6 175.0,1105.8 180.0,1106.2 185.0,1104.9 190.0,1103.0 195.0,1104.5 200.0,1105.8 205.0,1105.6 210.0,1104.3 215.0,1104.7 220.0,1104.6 225.0,1105.3 230.0,1106.7 235.0,1105.7 240.0,1106.2 245.0,1106.9 250.0,1105.9 255.0,1105.9 260.0,1106.4 265.0,1105.9 270.0,1105.0 275.0,1106.4 280.0,1107.3 285.0,1105.5 290.0,1106.8 295.0,1106.6 300.0,1106.5 305.0,1108.6 310.0,1107.6 315.0,1105.5 320.0,1106.3 325.0,1107.1 330.0,1106.8 335.0,1107.2 340.0,1107.0 345.0,1107.8 350.0,1108.1 355.0,1106.5 360.0,1106.4 365.0,1106.3 370.0,1106.2 375.0,1105.2 380.0,1105.6 385.0,1106.6 390.0,1108.1 395.0,1107.8 400.0,1105.5 405.0,1105.7 410.0,1106.5 415.0,1104.8 420.0,1105.6 425.0,1107.1 430.0,1108.5 435.0,1108.0 440.0,1106.7 445.0,1106.3 450.0,1107.1 455.0,1108.4 460.0,1107.0 465.0,1106.7 470.0,1107.3 475.0,1107.0 480.0,1106.4 485.0,1105.8 490.0,1106.5 495.0,1107.1 500.0,1108.5 505.0,1108.3 510.0,1107.6 515.0,1107.8 520.0,1107.5 525.0,1108.3 530.0,1107.9 535.0,1107.5 540.0,1106.3 545.0,1106.6 550.0,1104.9 555.0,1104.5 560.0,1106.0 565.0,1106.4 570.0,1108.1 575.0,1109.6 580.0,1107.1 585.0,1106.6 590.0,1107.7 595.0,1108.1 600.0,1107.5 605.0,1107.5 610.0,1108.4 615.0,1108.0 620.0,1106.7 625.0,1107.2 630.0,1107.3 635.0,1106.6 640.0,1107.3 645.0,1107.2 650.0,1108.5 655.0,1108.3 660.0,1107.7 665.0,1107.1 670.0,1106.7 675.0,1105.2 680.0,1106.0 685.0,1107.1 690.0,1106.0 695.0,1107.4 700.0,1106.6 705.0,1107.8 710.0,1107.6 715.0,1108.6 720.0,1107.9 725.0,1106.8 730.0,1109.3 735.0,1110.0 740.0,1108.4 745.0,1107.7 750.0,1107.5 755.0,1107.4 760.0,1108.8 765.0,1108.0 770.0,1107.6 775.0,1107.1 780.0,1106.8 785.0,1107.1 790.0,1109.1 795.0,1108.9 800.0,1109.3 805.0,1108.4 810.0,1107.5 815.0,1107.5 820.0,1107.6 825.0,1108.1 830.0,1107.9 835.0,1107.5 840.0,1106.6 845.0,1107.7 850.0,1109.7 855.0,1108.4 859.9,1110.0 862.4,1109.8 864.9,1109.6 867.4,1109.4 869.9,1109.2 872.4,1109.0 874.9,1108.8 877.4,1108.7 879.9,1108.5 882.4,1108.4 884.9,1108.3 887.4,1108.2 889.9,1108.1 892.4,1108.0 894.9,1107.9 897.4,1107.8 899.9,1107.7 902.4,1107.6 904.9,1107.5 907.4,1107.4 909.9,1107.3 912.4,1107.2 914.9,1107.1 917.4,1106.9 919.9,1106.8 922.4,1106.6 924.9,1106.5 927.3,1106.3 929.8,1106.1 932.3,1105.9 934.8,1105.6 937.3,1105.4 939.8,1105.1 942.3,1104.8 944.8,1104.5 947.2,1104.1 949.7,1103.8 952.2,1103.3 954.7,1102.9 957.1,1102.4 959.6,1101.9 962.0,1101.4 964.4,1100.8 966.9,1100.2 969.3,1099.6 971.7,1099.0 974.1,1098.3 976.5,1097.6 978.9,1096.8 981.3,1096.0 983.7,1095.2 986.0,1094.4 988.4,1093.5 990.7,1092.6 993.0,1091.7 995.3,1090.7 997.6,1089.7 999.9,1088.6 1002.1,1087.6 1004.4,1086.5 1006.6,1085.3 1008.8,1084.1 1011.0,1082.9 1013.2,1081.7 1015.3,1080.4 1017.4,1079.1 1019.5,1077.7 1021.6,1076.3 1023.7,1074.9 1025.7,1073.4 1027.7,1071.9 1029.6,1070.3 1031.6,1068.7 1033.5,1067.1 1035.3,1065.4 1037.2,1063.7 1039.0,1062.0 1040.7,1060.2 1042.5,1058.4 1044.2,1056.6 1045.8,1054.7 1047.5,1052.8 1049.1,1050.9 1050.7,1049.0 1052.2,1047.0 1053.7,1045.0 1055.2,1043.0 1056.7,1040.9 1058.1,1038.9 1059.5,1036.8 1060.8,1034.7 1062.2,1032.6 1063.5,1030.4 1064.8,1028.3 1066.0,1026.1 1067.3,1024.0 1068.5,1021.8 1069.7,1019.6 1070.8,1017.4 1072.0,1015.1 1073.1,1012.9 1074.2,1010.6 1075.3,1008.4 1076.3,1006.1 1077.4,1003.8 1078.4,1001.6 1079.4,999.3 1080.4,997.0 1081.4,994.7 1082.3,992.4 1083.3,990.0 1084.2,987.7 1085.1,985.4 1086.1,983.1 1087.0,980.7 1087.8,978.4 1088.7,976.0 1089.6,973.7 1090.5,971.4 1091.3,969.0 1092.2,966.6 1093.0,964.3 1093.8,961.9 1094.7,959.6 1095.5,957.2 1096.3,954.8 1097.1,952.5 1097.9,950.1 1098.8,947.7 1099.6,945.4 1100.4,943.0 1101.2,940.6 1102.0,938.3 1102.8,935.9 1103.5,933.5 1104.3,931.1 1105.1,928.8 1105.9,926.4 1106.7,924.0 1107.4,921.6 1108.2,919.2 1109.0,916.9 1109.7,914.5 1110.5,912.1 1111.2,909.7 1112.0,907.3 1112.7,904.9 1113.5,902.5 1114.2,900.1 1115.0,897.8 1115.7,895.4 1116.4,893.0 1117.2,890.6 1117.9,888.2 1118.6,885.8 1119.3,883.4 1120.1,881.0 1120.8,878.6 1121.5,876.2 1122.2,873.8 1122.9,871.4 1123.6,869.0 1124.3,866.6 1125.0,864.2 1125.7,861.8 1126.4,859.4 1127.1,857.0 1127.7,854.6 1128.4,852.2 1129.1,849.7 1129.8,847.3 1130.5,844.9 1131.1,842.5 1131.8,840.1 1132.5,837.7 1133.1,835.3 1133.8,832.9 1134.5,830.4 1135.1,828.0 1135.8,825.6 1136.4,823.2 1137.1,820.8 1137.7,818.4 1138.3,815.9 1139.0,813.5 1139.6,811.1 1140.3,808.7 1140.9,806.3 1141.5,803.8 1142.2,801.4 1142.8,799.0 1143.4,796.6 1144.0,794.2 1144.7,791.7 1145.3,789.3 1145.9,786.9 1146.5,784.5 1147.1,782.0 1147.7,779.6 1148.3,777.2 1148.9,774.7 1149.5,772.3 1150.1,769.9 1150.7,767.5 1151.3,765.0 1151.9,762.6 1152.5,760.2 1153.1,757.7 1153.7,755.3 1154.3,752.9 1154.9,750.4 1155.5,748.0 1156.1,745.6 1156.6,743.1 1157.2,740.7 1157.8,738.3 1158.4,735.8 1158.9,733.4 1159.5,731.0 1160.1,728.5 1160.7,726.1 1161.2,723.6 1161.8,721.2 1162.4,718.8 1162.9,716.3 1163.5,713.9 1164.1,711.5 1164.6,709.0 1165.2,706.6 1165.7,704.1 1166.3,701.7 1166.8,699.3 1167.4,696.8 1167.9,694.4 1168.5,691.9 1169.0,689.5 1169.6,687.1 1170.1,684.6 1170.7,682.2 1171.2,679.7 1171.8,677.3 1172.3,674.8 1172.9,672.4 1173.4,670.0 1174.0,667.5 1174.5,665.1 1175.0,662.6 1175.6,660.2 1176.1,657.7 1176.7,655.3 1177.2,652.8 1177.7,650.4 1178.3,648.0 1178.8,645.5 1179.3,643.1 1179.9,640.6 1180.4,638.2 1180.9,635.7 1181.5,633.3 1182.0,630.8 1182.5,628.4 1183.1,626.0 1183.6,623.5 1184.1,621.1 1184.6,618.6 1185.2,616.2 1185.7,613.7 1186.2,611.3 1186.8,608.8 1187.3,606.4 1187.8,603.9 1188.3,601.5 1188.9,599.0 1189.4,596.6 1189.9,594.2 1190.5,591.7 1191.0,589.3 1191.5,586.8 1192.0,584.4 1192.6,581.9 1193.1,579.5 1193.6,577.0 1194.1,574.6 1194.7,572.1 1195.2,569.7 1195.7,567.2 1196.2,564.8 1196.8,562.3 1197.3,559.9 1197.8,557.5 1198.4,555.0 1198.9,552.6 1199.4,550.1 1199.9,547.7 1200.5,545.2 1201.0,542.8 1201.5,540.3 1202.1,537.9 1202.6,535.4 1203.1,533.0 1203.6,530.5 1204.2,528.1 1204.7,525.7 1205.2,523.2 1205.8,520.8 1206.3,518.3 1206.8,515.9 1207.4,513.4 1207.9,511.0 1208.4,508.5 1208.9,506.1 1209.5,503.6 1210.0,501.2 1210.5,498.8 1211.1,496.3 1211.6,493.9 1212.2,491.4 1212.7,489.0 1213.2,486.5 1213.8,484.1 1214.3,481.6 1214.8,479.2 1215.4,476.8 1215.9,474.3 1216.4,471.9 1217.0,469.4 1217.5,467.0 1218.1,464.5 1218.6,462.1 1219.2,459.7 1219.7,457.2 1220.2,454.8 1220.8,452.3 1221.3,449.9 1221.9,447.4 1222.4,445.0 1223.0,442.6 1223.5,440.1 1224.1,437.7 1224.6,435.2 1225.2,432.8 1225.7,430.3 1226.3,427.9 1226.8,425.5 1227.4,423.0 1227.9,420.6 1228.5,418.1 1229.0,415.7 1229.6,413.3 1230.1,410.8 1230.7,408.4 1231.3,405.9 1231.8,403.5 1232.4,401.1 1232.9,398.6 1233.5,396.2 1234.1,393.7 1234.6,391.3 1235.2,388.9 1235.8,386.4 1236.3,384.0 1236.9,381.6 1237.5,379.1 1238.0,376.7 1238.6,374.2 1239.2,371.8 1239.7,369.4 1240.3,366.9 1240.9,364.5 1241.5,362.1 1242.1,359.6 1242.6,357.2 1243.2,354.8 1243.8,352.3 1244.4,349.9 1245.0,347.5 1245.5,345.0 1246.1,342.6 1246.7,340.2 1247.3,337.7 1247.9,335.3 1248.5,332.9 1249.1,330.4 1249.7,328.0 1250.3,325.6 1250.9,323.1 1251.5,320.7 1252.1,318.3 1252.7,315.9 1253.3,313.4 1253.9,311.0 1254.5,308.6 1255.1,306.1 1255.7,303.7 1256.3,301.3 1256.9,298.9 1257.5,296.4 1258.1,294.0 1258.7,291.6 1259.4,289.2 1260.0,286.7 1260.6,284.3 1261.2,281.9 1261.8,279.5 1262.5,277.0 1263.1,274.6 1263.7,272.2 1264.3,269.8 1265.0,267.3 1265.6,264.9 1266.2,262.5 1266.9,260.1 1267.5,257.7 1268.1,255.2 1268.8,252.8 1269.4,250.4 1270.1,248.0 1270.7,245.6 1271.4,243.1 1272.0,240.7 1272.6,238.3 1273.3,235.9 1274.0,233.5 1274.6,231.1 1275.3,228.6 1275.9,226.2 1276.6,223.8 1277.2,221.4 1277.9,219.0 1278.6,216.6 1279.2,214.2 1279.9,211.8 1280.6,209.3 1281.3,206.9 1281.9,204.5 1282.6,202.1 1283.3,199.7 1284.0,197.3 1284.7,194.9 1285.4,192.5 1286.0,190.1 1286.7,187.7 1287.4,185.3 1288.1,182.9 1288.8,180.5 1289.5,178.1 1290.2,175.7 1290.9,173.3 1291.6,170.9 1292.3,168.5 1293.0,166.1 1293.8,163.7 1294.5,161.3 1295.2,158.9 1295.9,156.5 1296.6,154.1 1297.4,151.7 1298.1,149.3 1298.8,146.9 1299.5,144.5 1300.3,142.1 1301.0,139.7 1301.8,137.3 1302.5,134.9 1303.2,132.5 1304.0,130.1 1304.7,127.8 1305.5,125.4 1306.2,123.0 1307.0,120.6 1307.7,118.2 1308.5,115.8 1309.3,113.4 1310.0,111.1 1310.8,108.7 1311.6,106.3 1312.4,103.9 1313.2,101.6 1314.0,99.2 1314.9,96.8 1315.7,94.5 1316.6,92.2 1317.5,89.8 1318.4,87.5 1319.4,85.2 1320.3,82.9 1321.3,80.6 1322.4,78.3 1323.4,76.0 1324.5,73.8 1325.6,71.5 1326.8,69.3 1328.0,67.1 1329.2,64.9 1330.5,62.8 1331.8,60.7 1333.2,58.6 1334.6,56.5 1336.0,54.4 1337.5,52.4 1339.0,50.4 1340.5,48.4 1342.1,46.5 1343.8,44.6 1345.5,42.8 1347.3,41.1 1349.1,39.4 1351.1,37.8 1353.1,36.3 1355.2,35.0 1357.4,33.8 1359.7,32.7 1362.0,31.9 1364.5,31.3 1367.0,31.0 1369.5,31.0 1372.0,31.2 1374.4,31.6 1376.9,32.1 1379.2,32.9 1381.6,33.8 1383.8,34.9 1386.0,36.1 1388.2,37.4 1390.2,38.8 1392.2,40.4 1394.1,42.0 1395.9,43.7 1397.6,45.5 1399.2,47.4 1400.8,49.4 1402.3,51.4 1403.8,53.4 1405.1,55.5 1406.5,57.6 1407.8,59.8 1409.1,61.9 1410.4,64.1 1411.6,66.2 1412.9,68.4 1414.1,70.6 1415.3,72.8 1416.5,75.0 1417.6,77.2 1418.8,79.4 1419.9,81.6 1421.1,83.9 1422.2,86.1 1423.3,88.4 1424.3,90.6 1425.4,92.9 1426.5,95.2 1427.5,97.4 1428.5,99.7 1429.5,102.0 1430.5,104.3 1431.5,106.6 1432.5,108.9 1433.5,111.2 1434.4,113.5 1435.4,115.8 1436.3,118.2 1437.2,120.5 1438.1,122.8 1439.0,125.2 1439.9,127.5 1440.8,129.8 1441.7,132.2 1442.6,134.5 1443.4,136.9 1444.3,139.2 1445.2,141.6 1446.0,143.9 1446.8,146.3 1447.7,148.6 1448.5,151.0 1449.3,153.4 1450.1,155.7 1450.9,158.1 1451.7,160.5 1452.5,162.9 1453.3,165.2 1454.1,167.6 1454.9,170.0 1455.7,172.4 1456.4,174.7 1457.2,177.1 1458.0,179.5 1458.7,181.9 1459.5,184.3 1460.2,186.7 1461.0,189.1 1461.7,191.5 1462.4,193.8 1463.2,196.2 1463.9,198.6 1464.6,201.0 1465.3,203.4 1466.0,205.8 1466.7,208.2 1467.4,210.6 1468.1,213.0 1468.8,215.4 1469.5,217.8 1470.2,220.2 1470.9,222.7 1471.6,225.1 1472.3,227.5 1472.9,229.9 1473.6,232.3 1474.3,234.7 1474.9,237.1 1475.6,239.5 1476.3,241.9 1476.9,244.4 1477.6,246.8 1478.2,249.2 1478.9,251.6 1479.5,254.0 1480.2,256.4 1480.8,258.9 1481.5,261.3 1482.1,263.7 1482.7,266.1 1483.4,268.5 1484.0,271.0 1484.6,273.4 1485.3,275.8 1485.9,278.2 1486.5,280.6 1487.2,283.1 1487.8,285.5 1488.4,287.9 1489.0,290.3 1489.7,292.8 1490.3,295.2 1490.9,297.6 1491.5,300.0 1492.1,302.5 1492.8,304.9 1493.4,307.3 1494.0,309.7 1494.6,312.2 1495.2,314.6 1495.8,317.0 1496.5,319.4 1497.1,321.9 1497.7,324.3 1498.3,326.7 1498.9,329.1 1499.5,331.6 1500.1,334.0 1500.8,336.4 1501.4,338.8 1502.0,341.3 1502.6,343.7 1503.2,346.1 1503.8,348.6 1504.4,351.0 1505.0,353.4 1505.7,355.8 1506.3,358.3 1506.9,360.7 1507.5,363.1 1508.1,365.5 1508.7,368.0 1509.3,370.4 1509.9,372.8 1510.6,375.2 1511.2,377.7 1511.8,380.1 1512.4,382.5 1513.0,384.9 1513.6,387.4 1514.2,389.8 1514.9,392.2 1515.5,394.7 1516.1,397.1 1516.7,399.5 1517.3,401.9 1517.9,404.4 1518.5,406.8 1519.2,409.2 1519.8,411.6 1520.4,414.1 1521.0,416.5 1521.6,418.9 1522.3,421.3 1522.9,423.8 1523.5,426.2 1524.1,428.6 1524.7,431.0 1525.4,433.5 1526.0,435.9 1526.6,438.3 1527.2,440.7 1527.9,443.1 1528.5,445.6 1529.1,448.0 1529.7,450.4 1530.4,452.8 1531.0,455.3 1531.6,457.7 1532.3,460.1 1532.9,462.5 1533.5,464.9 1534.2,467.4 1534.8,469.8 1535.5,472.2 1536.1,474.6 1536.7,477.0 1537.4,479.5 1538.0,481.9 1538.7,484.3 1539.3,486.7 1540.0,489.1 1540.6,491.5 1541.3,494.0 1541.9,496.4 1542.6,498.8 1543.2,501.2 1543.9,503.6 1544.5,506.0 1545.2,508.5 1545.9,510.9 1546.5,513.3 1547.2,515.7 1547.9,518.1 1548.5,520.5 1549.2,522.9 1549.9,525.3 1550.5,527.8 1551.2,530.2 1551.9,532.6 1552.6,535.0 1553.2,537.4 1553.9,539.8 1554.6,542.2 1555.3,544.6 1556.0,547.0 1556.7,549.4 1557.4,551.8 1558.1,554.2 1558.7,556.6 1559.4,559.0 1560.1,561.4 1560.8,563.8 1561.6,566.2 1562.3,568.6 1563.0,571.0 1563.7,573.4 1564.4,575.8 1565.1,578.2 1565.8,580.6 1566.5,583.0 1567.3,585.4 1568.0,587.8 1568.7,590.2 1569.4,592.6 1570.2,595.0 1570.9,597.4 1571.6,599.8 1572.4,602.2 1573.1,604.6 1573.9,607.0 1574.6,609.4 1575.4,611.7 1576.1,614.1 1576.9,616.5 1577.6,618.9 1578.4,621.3 1579.2,623.7 1579.9,626.0 1580.7,628.4 1581.5,630.8 1582.2,633.2 1583.0,635.6 1583.8,637.9 1584.6,640.3 1585.4,642.7 1586.1,645.1 1586.9,647.5 1587.7,649.8 1588.5,652.2 1589.3,654.6 1590.1,656.9 1590.9,659.3 1591.7,661.7 1592.6,664.0 1593.4,666.4 1594.2,668.8 1595.0,671.1 1595.8,673.5 1596.7,675.9 1597.5,678.2 1598.3,680.6 1599.2,682.9 1600.0,685.3 1600.9,687.7 1601.7,690.0 1602.6,692.4 1603.4,694.7 1604.3,697.1 1605.1,699.4 1606.0,701.8 1606.8,704.1 1607.7,706.5 1608.6,708.8 1609.5,711.2 1610.3,713.5 1611.2,715.8 1612.1,718.2 1613.0,720.5 1613.9,722.9 1614.8,725.2 1615.7,727.5 1616.6,729.9 1617.5,732.2 1618.4,734.5 1619.3,736.9 1620.3,739.2 1621.2,741.5 1622.1,743.8 1623.0,746.2 1624.0,748.5 1624.9,750.8 1625.8,753.1 1626.8,755.4 1627.7,757.8 1628.7,760.1 1629.6,762.4 1630.6,764.7 1631.6,767.0 1632.5,769.3 1633.5,771.6 1634.5,773.9 1635.4,776.2 1636.4,778.5 1637.4,780.8 1638.4,783.1 1639.4,785.4 1640.4,787.7 1641.4,790.0 1642.4,792.3 1643.4,794.6 1644.4,796.9 1645.4,799.2 1646.5,801.4 1647.5,803.7 1648.5,806.0 1649.6,808.3 1650.6,810.6 1651.7,812.8 1652.7,815.1 1653.8,817.4 1654.8,819.6 1655.9,821.9 1656.9,824.2 1658.0,826.4 1659.1,828.7 1660.2,831.0 1661.3,833.2 1662.3,835.5 1663.4,837.7 1664.5,840.0 1665.6,842.2 1666.8,844.5 1667.9,846.7 1669.0,848.9 1670.1,851.2 1671.2,853.4 1672.4,855.6 1673.5,857.9 1674.7,860.1 1675.8,862.3 1677.0,864.5 1678.1,866.7 1679.3,869.0 1680.5,871.2 1681.6,873.4 1682.8,875.6 1684.0,877.8 1685.2,880.0 1686.4,882.2 1687.6,884.4 1688.8,886.6 1690.0,888.8 1691.2,890.9 1692.5,893.1 1693.7,895.3 1695.0,897.5 1696.2,899.6 1697.5,901.8 1698.7,904.0 1700.0,906.1 1701.3,908.3 1702.5,910.4 1703.8,912.6 1705.1,914.7 1706.4,916.8 1707.7,919.0 1709.1,921.1 1710.4,923.2 1711.7,925.3 1713.1,927.5 1714.4,929.6 1715.8,931.7 1717.1,933.8 1718.5,935.9 1719.8,938.0 1721.2,940.1 1722.6,942.1 1724.0,944.2 1725.4,946.3 1726.8,948.4 1728.2,950.4 1729.7,952.5 1731.1,954.5 1732.5,956.6 1734.0,958.6 1735.4,960.7 1736.9,962.7 1738.3,964.7 1739.8,966.8 1741.3,968.8 1742.8,970.8 1744.3,972.8 1745.8,974.8 1747.3,976.8 1748.9,978.7 1750.4,980.7 1752.0,982.7 1753.5,984.6 1755.1,986.5 1756.7,988.5 1758.3,990.4 1760.0,992.3 1761.6,994.2 1763.3,996.0 1764.9,997.9 1766.6,999.7 1768.3,1001.6 1770.1,1003.4 1771.8,1005.2 1773.6,1007.0 1775.4,1008.7 1777.2,1010.5 1779.0,1012.2 1780.8,1013.9 1782.7,1015.6 1784.5,1017.2 1786.4,1018.8 1788.4,1020.4 1790.3,1022.0 1792.3,1023.6 1794.3,1025.1 1796.3,1026.6 1798.3,1028.0 1800.4,1029.5 1802.4,1030.9 1804.5,1032.2 1806.7,1033.6 1808.8,1034.9 1811.0,1036.1 1813.1,1037.3 1815.3,1038.5 1817.6,1039.7 1819.8,1040.8 1822.0,1041.9 1824.3,1043.0 1826.6,1044.1 1828.8,1045.1 1831.1,1046.2 1833.4,1047.2 1835.7,1048.2 1838.0,1049.1 1840.3,1050.1 1842.6,1051.1 1844.9,1052.1 1847.2,1053.0 1849.5,1054.0 1851.9,1054.9 1854.2,1055.9 1856.5,1056.8 1858.8,1057.8 1861.1,1058.8 1863.4,1059.7 1865.7,1060.7 1868.0,1061.7 1870.3,1062.7 1872.6,1063.6 1875.0,1064.6 1877.3,1065.5 1879.6,1066.4 1881.9,1067.4 1884.2,1068.3 1886.6,1069.2 1888.9,1070.1 1891.3,1071.0 1893.6,1071.8 1896.0,1072.6 1898.3,1073.5 1900.7,1074.3 1903.1,1075.0 1905.5,1075.8 1907.9,1076.5 1910.3,1077.3 1912.7,1078.0 1915.1,1078.7 1917.5,1079.3 1919.9,1080.0 1922.3,1080.6 1924.7,1081.3 1927.2,1081.9 1929.6,1082.5 1932.0,1083.0 1934.5,1083.6 1936.9,1084.2 1939.3,1084.7 1941.8,1085.2 1944.2,1085.7 1946.7,1086.2 1949.1,1086.7 1951.6,1087.2 1954.1,1087.7 1956.5,1088.1 1959.0,1088.6 1961.5,1089.0 1963.9,1089.4 1966.4,1089.8 1968.9,1090.2 1971.3,1090.6 1973.8,1091.0 1976.3,1091.4 1978.8,1091.7 1981.2,1092.1 1983.7,1092.4 1986.2,1092.7 1988.7,1093.1 1991.2,1093.4 1993.6,1093.7 1996.1,1094.0 1998.6,1094.2 2001.1,1094.5 2003.6,1094.8 2006.1,1095.0 2008.6,1095.3 2011.1,1095.5 2013.6,1095.8 2016.0,1096.0 2018.5,1096.2 2021.0,1096.4 2023.5,1096.6 2026.0,1096.8 2028.5,1097.0 2031.0,1097.2 2033.5,1097.4 2036.0,1097.6 2038.5,1097.8 2041.0,1097.9 2043.5,1098.1 2046.0,1098.2 2048.5,1098.4 2051.0,1098.5 2053.5,1098.7 2056.0,1098.8 2058.5,1098.9 2061.0,1099.0 2063.5,1099.2 2066.0,1099.3 2068.5,1099.4 2071.0,1099.5 2073.5,1099.6 2076.0,1099.7 2078.5,1099.8 2081.0,1099.9 2083.5,1100.0 2086.0,1100.1 2088.5,1100.2 2091.0,1100.2 2093.5,1100.3 2096.0,1100.4 2098.5,1100.5 2101.0,1100.6 2103.5,1100.6 2106.0,1100.7 2108.5,1100.8 2111.0,1100.9 2113.5,1100.9 2116.0,1101.0 2118.5,1101.1 2121.0,1101.1 2123.5,1101.2 2126.0,1101.3 2128.5,1101.4 2131.0,1101.4 2133.5,1101.5 2136.0,1101.6 2138.5,1101.6 2141.0,1101.7 2143.5,1101.8 2146.0,1101.9 2148.5,1101.9 2151.0,1102.0 2153.5,1102.1 2156.0,1102.2 2158.5,1102.3 2161.0,1102.4 2163.5,1102.5 2166.0,1102.6 2168.5,1102.7 2171.0,1102.8 2173.5,1102.9 2176.0,1103.0 2178.5,1103.1 2181.0,1103.2" fill="none" stroke="#0f0" stroke-width="7.6" stroke-linejoin="round" stroke-linecap="butt"/>
</svg></body></html>
